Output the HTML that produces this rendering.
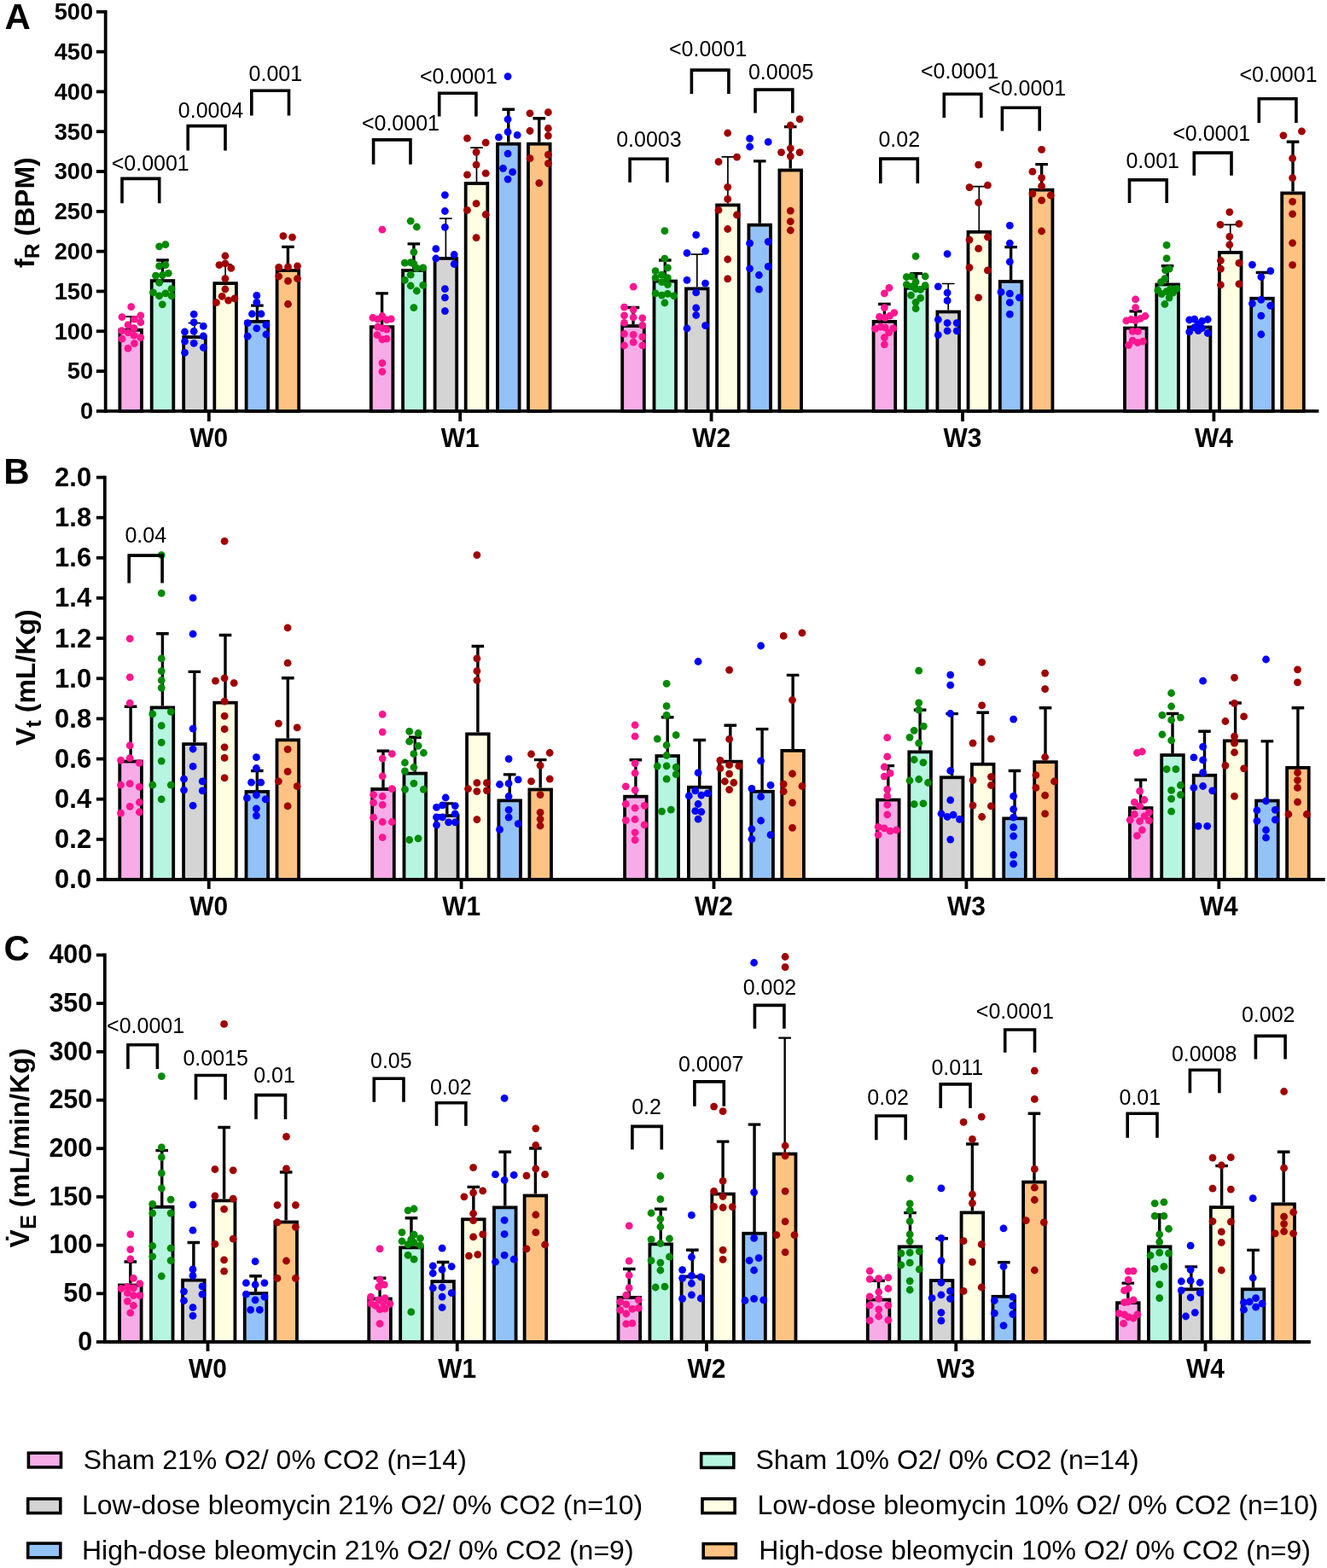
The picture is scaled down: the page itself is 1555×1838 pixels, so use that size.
<!DOCTYPE html>
<html><head><meta charset="utf-8"><title>Respiratory parameters</title><style>html,body{margin:0;padding:0;background:#fff;}svg{display:block;}</style></head><body>
<svg width="1555" height="1838" viewBox="0 0 1555 1838" font-family="'Liberation Sans', Arial, sans-serif">
<rect width="1555" height="1838" fill="#fff"/>
<text x="5.5" y="33.7" font-size="42" font-weight="bold">A</text>
<text x="4.2" y="566.9" font-size="42" font-weight="bold">B</text>
<text x="4.5" y="1126" font-size="42" font-weight="bold">C</text>
<text transform="translate(39.7,314) rotate(-90)" font-size="32" font-weight="bold">f<tspan font-size="24.6" dy="6.3">R</tspan><tspan dy="-6.3"> (BPM)</tspan></text>
<text transform="translate(41.4,874) rotate(-90)" font-size="32" font-weight="bold">V<tspan font-size="25.5" dy="6.9">t</tspan><tspan dy="-6.9"> (mL/Kg)</tspan></text>
<text transform="translate(34.1,1462.4) rotate(-90)" font-size="32" font-weight="bold">V&#x307;<tspan font-size="25.5" dy="7.6">E</tspan><tspan dy="-7.6"> (mL/min/Kg)</tspan></text>
<rect x="140.40" y="386.80" width="25.60" height="95.10" fill="#f7ace8" stroke="#000" stroke-width="3.8"/>
<rect x="177.70" y="329.10" width="25.60" height="152.80" fill="#b6f6e0" stroke="#000" stroke-width="3.8"/>
<rect x="215.20" y="395.10" width="25.60" height="86.80" fill="#d4d4d4" stroke="#000" stroke-width="3.8"/>
<rect x="251.30" y="332.10" width="25.60" height="149.80" fill="#fffde2" stroke="#000" stroke-width="3.8"/>
<rect x="288.60" y="376.90" width="25.60" height="105.00" fill="#93c2f8" stroke="#000" stroke-width="3.8"/>
<rect x="324.60" y="317.00" width="25.60" height="164.90" fill="#fec383" stroke="#000" stroke-width="3.8"/>
<path d="M153.20 384.90V371.20M145.90 371.20H160.50" stroke="#000" stroke-width="1.7" fill="none"/>
<path d="M190.50 327.20V305.00M183.20 305.00H197.80" stroke="#000" stroke-width="3.4" fill="none"/>
<path d="M228.00 393.20V378.70M220.70 378.70H235.30" stroke="#000" stroke-width="1.7" fill="none"/>
<path d="M264.10 330.20V309.90M256.80 309.90H271.40" stroke="#000" stroke-width="1.7" fill="none"/>
<path d="M301.40 375.00V358.10M294.10 358.10H308.70" stroke="#000" stroke-width="3.4" fill="none"/>
<path d="M337.40 315.10V289.40M330.10 289.40H344.70" stroke="#000" stroke-width="3.4" fill="none"/>
<circle cx="153.7" cy="359.7" r="4.4" fill="#ff1690"/>
<circle cx="143.0" cy="371.6" r="4.4" fill="#ff1690"/>
<circle cx="164.8" cy="369.8" r="4.4" fill="#ff1690"/>
<circle cx="157.4" cy="374.2" r="4.4" fill="#ff1690"/>
<circle cx="164.8" cy="377.9" r="4.4" fill="#ff1690"/>
<circle cx="150.0" cy="380.9" r="4.4" fill="#ff1690"/>
<circle cx="156.9" cy="384.6" r="4.4" fill="#ff1690"/>
<circle cx="142.6" cy="387.6" r="4.4" fill="#ff1690"/>
<circle cx="150.0" cy="389.8" r="4.4" fill="#ff1690"/>
<circle cx="156.9" cy="393.2" r="4.4" fill="#ff1690"/>
<circle cx="164.8" cy="395.7" r="4.4" fill="#ff1690"/>
<circle cx="143.0" cy="397.2" r="4.4" fill="#ff1690"/>
<circle cx="157.4" cy="402.6" r="4.4" fill="#ff1690"/>
<circle cx="150.0" cy="408.3" r="4.4" fill="#ff1690"/>
<circle cx="186.6" cy="288.8" r="4.4" fill="#008a00"/>
<circle cx="193.9" cy="286.7" r="4.4" fill="#008a00"/>
<circle cx="186.6" cy="311.8" r="4.4" fill="#008a00"/>
<circle cx="193.9" cy="310.6" r="4.4" fill="#008a00"/>
<circle cx="182.5" cy="323.2" r="4.4" fill="#008a00"/>
<circle cx="190.3" cy="322.5" r="4.4" fill="#008a00"/>
<circle cx="197.3" cy="320.3" r="4.4" fill="#008a00"/>
<circle cx="186.6" cy="331.3" r="4.4" fill="#008a00"/>
<circle cx="201.0" cy="338.7" r="4.4" fill="#008a00"/>
<circle cx="179.5" cy="342.9" r="4.4" fill="#008a00"/>
<circle cx="186.6" cy="346.9" r="4.4" fill="#008a00"/>
<circle cx="193.9" cy="343.9" r="4.4" fill="#008a00"/>
<circle cx="201.0" cy="346.9" r="4.4" fill="#008a00"/>
<circle cx="190.3" cy="356.8" r="4.4" fill="#008a00"/>
<circle cx="227.2" cy="368.3" r="4.4" fill="#0000ff"/>
<circle cx="227.2" cy="377.9" r="4.4" fill="#0000ff"/>
<circle cx="238.3" cy="382.4" r="4.4" fill="#0000ff"/>
<circle cx="216.5" cy="389.0" r="4.4" fill="#0000ff"/>
<circle cx="227.2" cy="388.3" r="4.4" fill="#0000ff"/>
<circle cx="238.3" cy="393.8" r="4.4" fill="#0000ff"/>
<circle cx="216.5" cy="400.1" r="4.4" fill="#0000ff"/>
<circle cx="227.2" cy="402.3" r="4.4" fill="#0000ff"/>
<circle cx="238.3" cy="407.5" r="4.4" fill="#0000ff"/>
<circle cx="216.5" cy="413.4" r="4.4" fill="#0000ff"/>
<circle cx="263.9" cy="300.0" r="4.4" fill="#a00000"/>
<circle cx="256.9" cy="310.6" r="4.4" fill="#a00000"/>
<circle cx="263.9" cy="308.9" r="4.4" fill="#a00000"/>
<circle cx="270.8" cy="314.3" r="4.4" fill="#a00000"/>
<circle cx="263.9" cy="326.6" r="4.4" fill="#a00000"/>
<circle cx="263.9" cy="339.0" r="4.4" fill="#a00000"/>
<circle cx="260.2" cy="347.3" r="4.4" fill="#a00000"/>
<circle cx="274.9" cy="349.8" r="4.4" fill="#a00000"/>
<circle cx="267.6" cy="352.1" r="4.4" fill="#a00000"/>
<circle cx="253.5" cy="354.7" r="4.4" fill="#a00000"/>
<circle cx="300.8" cy="346.4" r="4.4" fill="#0000ff"/>
<circle cx="300.8" cy="354.3" r="4.4" fill="#0000ff"/>
<circle cx="295.4" cy="368.0" r="4.4" fill="#0000ff"/>
<circle cx="306.0" cy="368.0" r="4.4" fill="#0000ff"/>
<circle cx="290.2" cy="378.7" r="4.4" fill="#0000ff"/>
<circle cx="311.9" cy="380.9" r="4.4" fill="#0000ff"/>
<circle cx="300.8" cy="384.9" r="4.4" fill="#0000ff"/>
<circle cx="290.2" cy="394.2" r="4.4" fill="#0000ff"/>
<circle cx="311.9" cy="392.0" r="4.4" fill="#0000ff"/>
<circle cx="331.9" cy="276.6" r="4.4" fill="#a00000"/>
<circle cx="342.5" cy="278.1" r="4.4" fill="#a00000"/>
<circle cx="326.7" cy="313.3" r="4.4" fill="#a00000"/>
<circle cx="337.5" cy="312.9" r="4.4" fill="#a00000"/>
<circle cx="348.5" cy="311.8" r="4.4" fill="#a00000"/>
<circle cx="326.7" cy="324.0" r="4.4" fill="#a00000"/>
<circle cx="337.5" cy="329.4" r="4.4" fill="#a00000"/>
<circle cx="348.5" cy="326.6" r="4.4" fill="#a00000"/>
<circle cx="337.5" cy="356.5" r="4.4" fill="#a00000"/>
<rect x="434.80" y="383.20" width="25.60" height="98.70" fill="#f7ace8" stroke="#000" stroke-width="3.8"/>
<rect x="472.10" y="317.00" width="25.60" height="164.90" fill="#b6f6e0" stroke="#000" stroke-width="3.8"/>
<rect x="509.60" y="302.90" width="25.60" height="179.00" fill="#d4d4d4" stroke="#000" stroke-width="3.8"/>
<rect x="545.70" y="215.00" width="25.60" height="266.90" fill="#fffde2" stroke="#000" stroke-width="3.8"/>
<rect x="583.00" y="168.70" width="25.60" height="313.20" fill="#93c2f8" stroke="#000" stroke-width="3.8"/>
<rect x="619.00" y="168.70" width="25.60" height="313.20" fill="#fec383" stroke="#000" stroke-width="3.8"/>
<path d="M447.60 381.30V343.90M440.30 343.90H454.90" stroke="#000" stroke-width="3.4" fill="none"/>
<path d="M484.90 315.10V285.90M477.60 285.90H492.20" stroke="#000" stroke-width="3.4" fill="none"/>
<path d="M522.40 301.00V256.20M515.10 256.20H529.70" stroke="#000" stroke-width="1.7" fill="none"/>
<path d="M558.50 213.10V173.20M551.20 173.20H565.80" stroke="#000" stroke-width="1.7" fill="none"/>
<path d="M595.80 166.80V128.20M588.50 128.20H603.10" stroke="#000" stroke-width="3.4" fill="none"/>
<path d="M631.80 166.80V138.80M624.50 138.80H639.10" stroke="#000" stroke-width="3.4" fill="none"/>
<circle cx="447.9" cy="269.2" r="4.4" fill="#ff1690"/>
<circle cx="436.8" cy="372.5" r="4.4" fill="#ff1690"/>
<circle cx="442.7" cy="374.2" r="4.4" fill="#ff1690"/>
<circle cx="447.9" cy="370.5" r="4.4" fill="#ff1690"/>
<circle cx="453.1" cy="375.0" r="4.4" fill="#ff1690"/>
<circle cx="458.3" cy="373.9" r="4.4" fill="#ff1690"/>
<circle cx="442.7" cy="383.1" r="4.4" fill="#ff1690"/>
<circle cx="447.9" cy="384.6" r="4.4" fill="#ff1690"/>
<circle cx="453.1" cy="386.1" r="4.4" fill="#ff1690"/>
<circle cx="442.0" cy="392.7" r="4.4" fill="#ff1690"/>
<circle cx="447.9" cy="397.9" r="4.4" fill="#ff1690"/>
<circle cx="453.1" cy="397.2" r="4.4" fill="#ff1690"/>
<circle cx="447.9" cy="425.7" r="4.4" fill="#ff1690"/>
<circle cx="447.9" cy="435.6" r="4.4" fill="#ff1690"/>
<circle cx="481.2" cy="259.2" r="4.4" fill="#008a00"/>
<circle cx="488.3" cy="266.0" r="4.4" fill="#008a00"/>
<circle cx="484.9" cy="295.6" r="4.4" fill="#008a00"/>
<circle cx="474.3" cy="308.1" r="4.4" fill="#008a00"/>
<circle cx="481.2" cy="307.7" r="4.4" fill="#008a00"/>
<circle cx="484.9" cy="309.2" r="4.4" fill="#008a00"/>
<circle cx="488.3" cy="314.3" r="4.4" fill="#008a00"/>
<circle cx="495.7" cy="313.9" r="4.4" fill="#008a00"/>
<circle cx="481.2" cy="322.2" r="4.4" fill="#008a00"/>
<circle cx="474.3" cy="328.4" r="4.4" fill="#008a00"/>
<circle cx="481.2" cy="335.0" r="4.4" fill="#008a00"/>
<circle cx="495.7" cy="334.3" r="4.4" fill="#008a00"/>
<circle cx="488.3" cy="341.0" r="4.4" fill="#008a00"/>
<circle cx="484.9" cy="360.6" r="4.4" fill="#008a00"/>
<circle cx="521.4" cy="228.6" r="4.4" fill="#0000ff"/>
<circle cx="521.4" cy="247.5" r="4.4" fill="#0000ff"/>
<circle cx="521.4" cy="266.3" r="4.4" fill="#0000ff"/>
<circle cx="510.8" cy="291.7" r="4.4" fill="#0000ff"/>
<circle cx="532.2" cy="298.5" r="4.4" fill="#0000ff"/>
<circle cx="510.8" cy="303.0" r="4.4" fill="#0000ff"/>
<circle cx="532.2" cy="309.5" r="4.4" fill="#0000ff"/>
<circle cx="521.4" cy="338.7" r="4.4" fill="#0000ff"/>
<circle cx="521.4" cy="348.8" r="4.4" fill="#0000ff"/>
<circle cx="521.4" cy="364.6" r="4.4" fill="#0000ff"/>
<circle cx="547.5" cy="162.1" r="4.4" fill="#a00000"/>
<circle cx="569.2" cy="167.2" r="4.4" fill="#a00000"/>
<circle cx="558.1" cy="178.3" r="4.4" fill="#a00000"/>
<circle cx="558.1" cy="193.1" r="4.4" fill="#a00000"/>
<circle cx="547.5" cy="204.9" r="4.4" fill="#a00000"/>
<circle cx="569.2" cy="203.2" r="4.4" fill="#a00000"/>
<circle cx="558.1" cy="238.7" r="4.4" fill="#a00000"/>
<circle cx="547.5" cy="246.4" r="4.4" fill="#a00000"/>
<circle cx="569.2" cy="251.5" r="4.4" fill="#a00000"/>
<circle cx="558.1" cy="278.6" r="4.4" fill="#a00000"/>
<circle cx="595.1" cy="89.6" r="4.4" fill="#0000ff"/>
<circle cx="595.1" cy="139.9" r="4.4" fill="#0000ff"/>
<circle cx="595.1" cy="154.7" r="4.4" fill="#0000ff"/>
<circle cx="584.4" cy="160.9" r="4.4" fill="#0000ff"/>
<circle cx="606.2" cy="158.4" r="4.4" fill="#0000ff"/>
<circle cx="595.1" cy="180.1" r="4.4" fill="#0000ff"/>
<circle cx="589.5" cy="197.3" r="4.4" fill="#0000ff"/>
<circle cx="600.6" cy="201.7" r="4.4" fill="#0000ff"/>
<circle cx="595.1" cy="210.1" r="4.4" fill="#0000ff"/>
<circle cx="621.0" cy="132.9" r="4.4" fill="#a00000"/>
<circle cx="642.4" cy="131.7" r="4.4" fill="#a00000"/>
<circle cx="621.0" cy="153.5" r="4.4" fill="#a00000"/>
<circle cx="642.4" cy="150.5" r="4.4" fill="#a00000"/>
<circle cx="642.4" cy="159.1" r="4.4" fill="#a00000"/>
<circle cx="642.4" cy="181.3" r="4.4" fill="#a00000"/>
<circle cx="621.0" cy="185.7" r="4.4" fill="#a00000"/>
<circle cx="642.4" cy="191.6" r="4.4" fill="#a00000"/>
<circle cx="631.8" cy="214.6" r="4.4" fill="#a00000"/>
<rect x="729.20" y="382.10" width="25.60" height="99.80" fill="#f7ace8" stroke="#000" stroke-width="3.8"/>
<rect x="766.50" y="329.60" width="25.60" height="152.30" fill="#b6f6e0" stroke="#000" stroke-width="3.8"/>
<rect x="804.00" y="338.40" width="25.60" height="143.50" fill="#d4d4d4" stroke="#000" stroke-width="3.8"/>
<rect x="840.10" y="240.40" width="25.60" height="241.50" fill="#fffde2" stroke="#000" stroke-width="3.8"/>
<rect x="877.40" y="263.70" width="25.60" height="218.20" fill="#93c2f8" stroke="#000" stroke-width="3.8"/>
<rect x="913.40" y="199.50" width="25.60" height="282.40" fill="#fec383" stroke="#000" stroke-width="3.8"/>
<path d="M742.00 380.20V360.50M734.70 360.50H749.30" stroke="#000" stroke-width="3.4" fill="none"/>
<path d="M779.30 327.70V305.00M772.00 305.00H786.60" stroke="#000" stroke-width="3.4" fill="none"/>
<path d="M816.80 336.50V298.10M809.50 298.10H824.10" stroke="#000" stroke-width="1.7" fill="none"/>
<path d="M852.90 238.50V183.80M845.60 183.80H860.20" stroke="#000" stroke-width="1.7" fill="none"/>
<path d="M890.20 261.80V188.90M882.90 188.90H897.50" stroke="#000" stroke-width="3.4" fill="none"/>
<path d="M926.20 197.60V148.60M918.90 148.60H933.50" stroke="#000" stroke-width="3.4" fill="none"/>
<circle cx="742.2" cy="336.2" r="4.4" fill="#ff1690"/>
<circle cx="731.5" cy="360.2" r="4.4" fill="#ff1690"/>
<circle cx="742.2" cy="363.1" r="4.4" fill="#ff1690"/>
<circle cx="731.5" cy="369.8" r="4.4" fill="#ff1690"/>
<circle cx="742.2" cy="372.0" r="4.4" fill="#ff1690"/>
<circle cx="752.8" cy="372.8" r="4.4" fill="#ff1690"/>
<circle cx="731.5" cy="378.4" r="4.4" fill="#ff1690"/>
<circle cx="752.8" cy="381.3" r="4.4" fill="#ff1690"/>
<circle cx="731.5" cy="391.3" r="4.4" fill="#ff1690"/>
<circle cx="742.2" cy="392.3" r="4.4" fill="#ff1690"/>
<circle cx="752.8" cy="394.9" r="4.4" fill="#ff1690"/>
<circle cx="742.2" cy="401.2" r="4.4" fill="#ff1690"/>
<circle cx="731.5" cy="405.0" r="4.4" fill="#ff1690"/>
<circle cx="752.8" cy="405.0" r="4.4" fill="#ff1690"/>
<circle cx="778.9" cy="270.7" r="4.4" fill="#008a00"/>
<circle cx="778.9" cy="303.2" r="4.4" fill="#008a00"/>
<circle cx="782.4" cy="313.9" r="4.4" fill="#008a00"/>
<circle cx="768.1" cy="317.7" r="4.4" fill="#008a00"/>
<circle cx="775.5" cy="322.2" r="4.4" fill="#008a00"/>
<circle cx="768.1" cy="325.7" r="4.4" fill="#008a00"/>
<circle cx="782.4" cy="325.7" r="4.4" fill="#008a00"/>
<circle cx="775.5" cy="330.6" r="4.4" fill="#008a00"/>
<circle cx="782.4" cy="333.6" r="4.4" fill="#008a00"/>
<circle cx="768.1" cy="343.9" r="4.4" fill="#008a00"/>
<circle cx="775.5" cy="346.1" r="4.4" fill="#008a00"/>
<circle cx="782.4" cy="344.4" r="4.4" fill="#008a00"/>
<circle cx="789.8" cy="346.9" r="4.4" fill="#008a00"/>
<circle cx="778.9" cy="355.0" r="4.4" fill="#008a00"/>
<circle cx="815.7" cy="275.4" r="4.4" fill="#0000ff"/>
<circle cx="805.0" cy="296.6" r="4.4" fill="#0000ff"/>
<circle cx="826.5" cy="294.4" r="4.4" fill="#0000ff"/>
<circle cx="805.0" cy="328.4" r="4.4" fill="#0000ff"/>
<circle cx="826.5" cy="332.1" r="4.4" fill="#0000ff"/>
<circle cx="815.7" cy="342.9" r="4.4" fill="#0000ff"/>
<circle cx="815.7" cy="360.9" r="4.4" fill="#0000ff"/>
<circle cx="815.7" cy="369.5" r="4.4" fill="#0000ff"/>
<circle cx="805.0" cy="384.9" r="4.4" fill="#0000ff"/>
<circle cx="826.5" cy="381.6" r="4.4" fill="#0000ff"/>
<circle cx="852.7" cy="156.0" r="4.4" fill="#a00000"/>
<circle cx="842.0" cy="189.7" r="4.4" fill="#a00000"/>
<circle cx="863.5" cy="184.1" r="4.4" fill="#a00000"/>
<circle cx="852.7" cy="219.3" r="4.4" fill="#a00000"/>
<circle cx="852.7" cy="233.4" r="4.4" fill="#a00000"/>
<circle cx="842.0" cy="246.2" r="4.4" fill="#a00000"/>
<circle cx="863.5" cy="251.9" r="4.4" fill="#a00000"/>
<circle cx="852.7" cy="268.5" r="4.4" fill="#a00000"/>
<circle cx="852.7" cy="304.0" r="4.4" fill="#a00000"/>
<circle cx="852.7" cy="326.9" r="4.4" fill="#a00000"/>
<circle cx="878.6" cy="162.4" r="4.4" fill="#0000ff"/>
<circle cx="878.6" cy="172.0" r="4.4" fill="#0000ff"/>
<circle cx="900.2" cy="166.4" r="4.4" fill="#0000ff"/>
<circle cx="878.6" cy="285.2" r="4.4" fill="#0000ff"/>
<circle cx="900.2" cy="283.3" r="4.4" fill="#0000ff"/>
<circle cx="878.6" cy="314.8" r="4.4" fill="#0000ff"/>
<circle cx="900.2" cy="312.4" r="4.4" fill="#0000ff"/>
<circle cx="889.4" cy="322.5" r="4.4" fill="#0000ff"/>
<circle cx="889.4" cy="339.2" r="4.4" fill="#0000ff"/>
<circle cx="937.1" cy="139.7" r="4.4" fill="#a00000"/>
<circle cx="926.3" cy="146.8" r="4.4" fill="#a00000"/>
<circle cx="926.3" cy="173.8" r="4.4" fill="#a00000"/>
<circle cx="915.5" cy="178.6" r="4.4" fill="#a00000"/>
<circle cx="937.1" cy="178.6" r="4.4" fill="#a00000"/>
<circle cx="926.3" cy="183.1" r="4.4" fill="#a00000"/>
<circle cx="926.3" cy="247.1" r="4.4" fill="#a00000"/>
<circle cx="926.3" cy="259.6" r="4.4" fill="#a00000"/>
<circle cx="926.3" cy="270.0" r="4.4" fill="#a00000"/>
<rect x="1023.60" y="376.90" width="25.60" height="105.00" fill="#f7ace8" stroke="#000" stroke-width="3.8"/>
<rect x="1060.90" y="337.70" width="25.60" height="144.20" fill="#b6f6e0" stroke="#000" stroke-width="3.8"/>
<rect x="1098.40" y="365.50" width="25.60" height="116.40" fill="#d4d4d4" stroke="#000" stroke-width="3.8"/>
<rect x="1134.50" y="271.90" width="25.60" height="210.00" fill="#fffde2" stroke="#000" stroke-width="3.8"/>
<rect x="1171.80" y="330.00" width="25.60" height="151.90" fill="#93c2f8" stroke="#000" stroke-width="3.8"/>
<rect x="1207.80" y="222.60" width="25.60" height="259.30" fill="#fec383" stroke="#000" stroke-width="3.8"/>
<path d="M1036.40 375.00V356.50M1029.10 356.50H1043.70" stroke="#000" stroke-width="3.4" fill="none"/>
<path d="M1073.70 335.80V320.60M1066.40 320.60H1081.00" stroke="#000" stroke-width="3.4" fill="none"/>
<path d="M1111.20 363.60V332.50M1103.90 332.50H1118.50" stroke="#000" stroke-width="1.7" fill="none"/>
<path d="M1147.30 270.00V218.70M1140.00 218.70H1154.60" stroke="#000" stroke-width="1.7" fill="none"/>
<path d="M1184.60 328.10V289.60M1177.30 289.60H1191.90" stroke="#000" stroke-width="3.4" fill="none"/>
<path d="M1220.60 220.70V192.60M1213.30 192.60H1227.90" stroke="#000" stroke-width="3.4" fill="none"/>
<circle cx="1041.9" cy="337.3" r="4.4" fill="#ff1690"/>
<circle cx="1036.4" cy="343.9" r="4.4" fill="#ff1690"/>
<circle cx="1036.4" cy="360.6" r="4.4" fill="#ff1690"/>
<circle cx="1047.8" cy="366.6" r="4.4" fill="#ff1690"/>
<circle cx="1030.5" cy="371.3" r="4.4" fill="#ff1690"/>
<circle cx="1037.2" cy="372.5" r="4.4" fill="#ff1690"/>
<circle cx="1042.8" cy="370.1" r="4.4" fill="#ff1690"/>
<circle cx="1025.6" cy="385.3" r="4.4" fill="#ff1690"/>
<circle cx="1032.0" cy="383.1" r="4.4" fill="#ff1690"/>
<circle cx="1037.2" cy="383.9" r="4.4" fill="#ff1690"/>
<circle cx="1046.8" cy="384.9" r="4.4" fill="#ff1690"/>
<circle cx="1041.6" cy="389.8" r="4.4" fill="#ff1690"/>
<circle cx="1036.4" cy="395.7" r="4.4" fill="#ff1690"/>
<circle cx="1036.4" cy="403.8" r="4.4" fill="#ff1690"/>
<circle cx="1073.1" cy="300.3" r="4.4" fill="#008a00"/>
<circle cx="1062.3" cy="324.7" r="4.4" fill="#008a00"/>
<circle cx="1068.2" cy="324.0" r="4.4" fill="#008a00"/>
<circle cx="1084.2" cy="324.0" r="4.4" fill="#008a00"/>
<circle cx="1073.1" cy="330.6" r="4.4" fill="#008a00"/>
<circle cx="1062.3" cy="333.6" r="4.4" fill="#008a00"/>
<circle cx="1084.2" cy="334.6" r="4.4" fill="#008a00"/>
<circle cx="1068.2" cy="335.8" r="4.4" fill="#008a00"/>
<circle cx="1078.6" cy="339.5" r="4.4" fill="#008a00"/>
<circle cx="1073.1" cy="338.7" r="4.4" fill="#008a00"/>
<circle cx="1067.5" cy="346.1" r="4.4" fill="#008a00"/>
<circle cx="1078.6" cy="349.4" r="4.4" fill="#008a00"/>
<circle cx="1073.1" cy="354.3" r="4.4" fill="#008a00"/>
<circle cx="1073.1" cy="361.7" r="4.4" fill="#008a00"/>
<circle cx="1110.1" cy="297.6" r="4.4" fill="#0000ff"/>
<circle cx="1099.3" cy="335.8" r="4.4" fill="#0000ff"/>
<circle cx="1110.1" cy="343.2" r="4.4" fill="#0000ff"/>
<circle cx="1110.1" cy="352.4" r="4.4" fill="#0000ff"/>
<circle cx="1099.3" cy="374.7" r="4.4" fill="#0000ff"/>
<circle cx="1110.1" cy="378.7" r="4.4" fill="#0000ff"/>
<circle cx="1121.2" cy="378.7" r="4.4" fill="#0000ff"/>
<circle cx="1110.1" cy="387.8" r="4.4" fill="#0000ff"/>
<circle cx="1121.2" cy="387.8" r="4.4" fill="#0000ff"/>
<circle cx="1099.3" cy="392.7" r="4.4" fill="#0000ff"/>
<circle cx="1146.6" cy="193.1" r="4.4" fill="#a00000"/>
<circle cx="1136.0" cy="219.7" r="4.4" fill="#a00000"/>
<circle cx="1157.4" cy="217.2" r="4.4" fill="#a00000"/>
<circle cx="1146.6" cy="237.5" r="4.4" fill="#a00000"/>
<circle cx="1136.0" cy="281.1" r="4.4" fill="#a00000"/>
<circle cx="1157.4" cy="277.8" r="4.4" fill="#a00000"/>
<circle cx="1146.6" cy="291.4" r="4.4" fill="#a00000"/>
<circle cx="1136.0" cy="313.6" r="4.4" fill="#a00000"/>
<circle cx="1157.4" cy="316.9" r="4.4" fill="#a00000"/>
<circle cx="1146.6" cy="348.8" r="4.4" fill="#a00000"/>
<circle cx="1183.3" cy="264.3" r="4.4" fill="#0000ff"/>
<circle cx="1183.3" cy="285.1" r="4.4" fill="#0000ff"/>
<circle cx="1183.3" cy="306.9" r="4.4" fill="#0000ff"/>
<circle cx="1173.0" cy="342.4" r="4.4" fill="#0000ff"/>
<circle cx="1183.3" cy="344.2" r="4.4" fill="#0000ff"/>
<circle cx="1194.3" cy="348.8" r="4.4" fill="#0000ff"/>
<circle cx="1183.3" cy="354.7" r="4.4" fill="#0000ff"/>
<circle cx="1183.3" cy="368.3" r="4.4" fill="#0000ff"/>
<circle cx="1220.6" cy="175.3" r="4.4" fill="#a00000"/>
<circle cx="1209.9" cy="201.2" r="4.4" fill="#a00000"/>
<circle cx="1220.6" cy="208.3" r="4.4" fill="#a00000"/>
<circle cx="1220.6" cy="218.2" r="4.4" fill="#a00000"/>
<circle cx="1209.9" cy="227.1" r="4.4" fill="#a00000"/>
<circle cx="1231.2" cy="229.0" r="4.4" fill="#a00000"/>
<circle cx="1220.6" cy="234.9" r="4.4" fill="#a00000"/>
<circle cx="1220.6" cy="271.0" r="4.4" fill="#a00000"/>
<rect x="1318.00" y="384.60" width="25.60" height="97.30" fill="#f7ace8" stroke="#000" stroke-width="3.8"/>
<rect x="1355.30" y="333.50" width="25.60" height="148.40" fill="#b6f6e0" stroke="#000" stroke-width="3.8"/>
<rect x="1392.80" y="383.50" width="25.60" height="98.40" fill="#d4d4d4" stroke="#000" stroke-width="3.8"/>
<rect x="1428.90" y="296.00" width="25.60" height="185.90" fill="#fffde2" stroke="#000" stroke-width="3.8"/>
<rect x="1466.20" y="349.80" width="25.60" height="132.10" fill="#93c2f8" stroke="#000" stroke-width="3.8"/>
<rect x="1502.20" y="226.40" width="25.60" height="255.50" fill="#fec383" stroke="#000" stroke-width="3.8"/>
<path d="M1330.80 382.70V364.90M1323.50 364.90H1338.10" stroke="#000" stroke-width="3.4" fill="none"/>
<path d="M1368.10 331.60V311.80M1360.80 311.80H1375.40" stroke="#000" stroke-width="3.4" fill="none"/>
<path d="M1405.60 381.60V377.50M1398.30 377.50H1412.90" stroke="#000" stroke-width="1.7" fill="none"/>
<path d="M1441.70 294.10V263.30M1434.40 263.30H1449.00" stroke="#000" stroke-width="1.7" fill="none"/>
<path d="M1479.00 347.90V319.50M1471.70 319.50H1486.30" stroke="#000" stroke-width="3.4" fill="none"/>
<path d="M1515.00 224.50V166.30M1507.70 166.30H1522.30" stroke="#000" stroke-width="3.4" fill="none"/>
<circle cx="1330.6" cy="350.9" r="4.4" fill="#ff1690"/>
<circle cx="1330.6" cy="360.6" r="4.4" fill="#ff1690"/>
<circle cx="1319.8" cy="376.0" r="4.4" fill="#ff1690"/>
<circle cx="1325.4" cy="374.5" r="4.4" fill="#ff1690"/>
<circle cx="1330.9" cy="375.0" r="4.4" fill="#ff1690"/>
<circle cx="1336.4" cy="373.5" r="4.4" fill="#ff1690"/>
<circle cx="1342.0" cy="370.5" r="4.4" fill="#ff1690"/>
<circle cx="1327.2" cy="388.3" r="4.4" fill="#ff1690"/>
<circle cx="1333.4" cy="388.3" r="4.4" fill="#ff1690"/>
<circle cx="1322.5" cy="404.6" r="4.4" fill="#ff1690"/>
<circle cx="1327.2" cy="399.1" r="4.4" fill="#ff1690"/>
<circle cx="1333.1" cy="401.6" r="4.4" fill="#ff1690"/>
<circle cx="1339.3" cy="400.1" r="4.4" fill="#ff1690"/>
<circle cx="1330.4" cy="375.7" r="4.4" fill="#ff1690"/>
<circle cx="1367.1" cy="287.3" r="4.4" fill="#008a00"/>
<circle cx="1367.1" cy="302.8" r="4.4" fill="#008a00"/>
<circle cx="1365.6" cy="316.9" r="4.4" fill="#008a00"/>
<circle cx="1370.1" cy="315.1" r="4.4" fill="#008a00"/>
<circle cx="1364.9" cy="326.6" r="4.4" fill="#008a00"/>
<circle cx="1360.5" cy="330.6" r="4.4" fill="#008a00"/>
<circle cx="1356.8" cy="340.2" r="4.4" fill="#008a00"/>
<circle cx="1361.2" cy="344.7" r="4.4" fill="#008a00"/>
<circle cx="1367.1" cy="341.7" r="4.4" fill="#008a00"/>
<circle cx="1371.6" cy="338.7" r="4.4" fill="#008a00"/>
<circle cx="1379.0" cy="338.4" r="4.4" fill="#008a00"/>
<circle cx="1370.1" cy="349.1" r="4.4" fill="#008a00"/>
<circle cx="1364.9" cy="356.5" r="4.4" fill="#008a00"/>
<circle cx="1374.5" cy="343.2" r="4.4" fill="#008a00"/>
<circle cx="1393.7" cy="375.0" r="4.4" fill="#0000ff"/>
<circle cx="1399.7" cy="374.2" r="4.4" fill="#0000ff"/>
<circle cx="1415.2" cy="374.5" r="4.4" fill="#0000ff"/>
<circle cx="1408.5" cy="376.5" r="4.4" fill="#0000ff"/>
<circle cx="1404.1" cy="380.2" r="4.4" fill="#0000ff"/>
<circle cx="1399.7" cy="383.9" r="4.4" fill="#0000ff"/>
<circle cx="1408.5" cy="384.6" r="4.4" fill="#0000ff"/>
<circle cx="1393.7" cy="389.0" r="4.4" fill="#0000ff"/>
<circle cx="1404.1" cy="387.6" r="4.4" fill="#0000ff"/>
<circle cx="1415.2" cy="390.5" r="4.4" fill="#0000ff"/>
<circle cx="1440.8" cy="248.6" r="4.4" fill="#a00000"/>
<circle cx="1430.0" cy="263.4" r="4.4" fill="#a00000"/>
<circle cx="1451.9" cy="262.3" r="4.4" fill="#a00000"/>
<circle cx="1440.8" cy="277.4" r="4.4" fill="#a00000"/>
<circle cx="1440.8" cy="287.0" r="4.4" fill="#a00000"/>
<circle cx="1430.4" cy="305.5" r="4.4" fill="#a00000"/>
<circle cx="1451.9" cy="308.4" r="4.4" fill="#a00000"/>
<circle cx="1430.4" cy="315.1" r="4.4" fill="#a00000"/>
<circle cx="1430.4" cy="334.0" r="4.4" fill="#a00000"/>
<circle cx="1451.9" cy="332.8" r="4.4" fill="#a00000"/>
<circle cx="1467.4" cy="310.3" r="4.4" fill="#0000ff"/>
<circle cx="1488.8" cy="317.7" r="4.4" fill="#0000ff"/>
<circle cx="1477.8" cy="324.7" r="4.4" fill="#0000ff"/>
<circle cx="1477.8" cy="351.3" r="4.4" fill="#0000ff"/>
<circle cx="1467.4" cy="355.8" r="4.4" fill="#0000ff"/>
<circle cx="1488.8" cy="358.3" r="4.4" fill="#0000ff"/>
<circle cx="1477.8" cy="370.1" r="4.4" fill="#0000ff"/>
<circle cx="1477.8" cy="392.0" r="4.4" fill="#0000ff"/>
<circle cx="1503.9" cy="158.8" r="4.4" fill="#a00000"/>
<circle cx="1525.4" cy="153.9" r="4.4" fill="#a00000"/>
<circle cx="1514.6" cy="185.7" r="4.4" fill="#a00000"/>
<circle cx="1514.6" cy="208.6" r="4.4" fill="#a00000"/>
<circle cx="1514.6" cy="236.3" r="4.4" fill="#a00000"/>
<circle cx="1514.6" cy="250.8" r="4.4" fill="#a00000"/>
<circle cx="1514.6" cy="284.8" r="4.4" fill="#a00000"/>
<circle cx="1514.6" cy="310.6" r="4.4" fill="#a00000"/>
<rect x="140.30" y="892.50" width="25.60" height="138.50" fill="#f7ace8" stroke="#000" stroke-width="3.8"/>
<rect x="177.60" y="829.40" width="25.60" height="201.60" fill="#b6f6e0" stroke="#000" stroke-width="3.8"/>
<rect x="215.10" y="872.20" width="25.60" height="158.80" fill="#d4d4d4" stroke="#000" stroke-width="3.8"/>
<rect x="251.20" y="823.70" width="25.60" height="207.30" fill="#fffde2" stroke="#000" stroke-width="3.8"/>
<rect x="288.50" y="928.00" width="25.60" height="103.00" fill="#93c2f8" stroke="#000" stroke-width="3.8"/>
<rect x="324.50" y="867.40" width="25.60" height="163.60" fill="#fec383" stroke="#000" stroke-width="3.8"/>
<path d="M153.10 890.60V828.30M145.80 828.30H160.40" stroke="#000" stroke-width="3.4" fill="none"/>
<path d="M190.40 827.50V742.70M183.10 742.70H197.70" stroke="#000" stroke-width="3.4" fill="none"/>
<path d="M227.90 870.30V787.40M220.60 787.40H235.20" stroke="#000" stroke-width="3.4" fill="none"/>
<path d="M264.00 821.80V744.50M256.70 744.50H271.30" stroke="#000" stroke-width="3.4" fill="none"/>
<path d="M301.30 926.10V903.50M294.00 903.50H308.60" stroke="#000" stroke-width="3.4" fill="none"/>
<path d="M337.30 865.50V794.80M330.00 794.80H344.60" stroke="#000" stroke-width="3.4" fill="none"/>
<circle cx="152.2" cy="748.6" r="4.4" fill="#ff1690"/>
<circle cx="152.2" cy="793.8" r="4.4" fill="#ff1690"/>
<circle cx="152.2" cy="824.1" r="4.4" fill="#ff1690"/>
<circle cx="152.2" cy="873.9" r="4.4" fill="#ff1690"/>
<circle cx="141.5" cy="891.1" r="4.4" fill="#ff1690"/>
<circle cx="152.2" cy="888.7" r="4.4" fill="#ff1690"/>
<circle cx="163.3" cy="894.3" r="4.4" fill="#ff1690"/>
<circle cx="141.5" cy="920.2" r="4.4" fill="#ff1690"/>
<circle cx="152.2" cy="918.7" r="4.4" fill="#ff1690"/>
<circle cx="163.3" cy="922.4" r="4.4" fill="#ff1690"/>
<circle cx="163.3" cy="940.5" r="4.4" fill="#ff1690"/>
<circle cx="152.2" cy="945.3" r="4.4" fill="#ff1690"/>
<circle cx="141.5" cy="953.2" r="4.4" fill="#ff1690"/>
<circle cx="163.3" cy="952.0" r="4.4" fill="#ff1690"/>
<circle cx="189.2" cy="650.7" r="4.4" fill="#008a00"/>
<circle cx="189.2" cy="695.4" r="4.4" fill="#008a00"/>
<circle cx="189.2" cy="771.9" r="4.4" fill="#008a00"/>
<circle cx="189.2" cy="786.7" r="4.4" fill="#008a00"/>
<circle cx="189.2" cy="797.5" r="4.4" fill="#008a00"/>
<circle cx="189.2" cy="806.3" r="4.4" fill="#008a00"/>
<circle cx="178.8" cy="836.9" r="4.4" fill="#008a00"/>
<circle cx="200.3" cy="834.4" r="4.4" fill="#008a00"/>
<circle cx="189.2" cy="850.7" r="4.4" fill="#008a00"/>
<circle cx="189.2" cy="870.3" r="4.4" fill="#008a00"/>
<circle cx="189.2" cy="892.1" r="4.4" fill="#008a00"/>
<circle cx="178.8" cy="920.2" r="4.4" fill="#008a00"/>
<circle cx="200.3" cy="920.2" r="4.4" fill="#008a00"/>
<circle cx="189.2" cy="936.9" r="4.4" fill="#008a00"/>
<circle cx="226.1" cy="700.9" r="4.4" fill="#0000ff"/>
<circle cx="226.1" cy="743.2" r="4.4" fill="#0000ff"/>
<circle cx="226.1" cy="854.1" r="4.4" fill="#0000ff"/>
<circle cx="226.1" cy="878.0" r="4.4" fill="#0000ff"/>
<circle cx="226.1" cy="898.4" r="4.4" fill="#0000ff"/>
<circle cx="215.5" cy="913.2" r="4.4" fill="#0000ff"/>
<circle cx="237.2" cy="915.8" r="4.4" fill="#0000ff"/>
<circle cx="215.5" cy="926.1" r="4.4" fill="#0000ff"/>
<circle cx="237.2" cy="926.8" r="4.4" fill="#0000ff"/>
<circle cx="226.1" cy="944.3" r="4.4" fill="#0000ff"/>
<circle cx="263.1" cy="634.3" r="4.4" fill="#a00000"/>
<circle cx="252.5" cy="798.2" r="4.4" fill="#a00000"/>
<circle cx="263.1" cy="794.9" r="4.4" fill="#a00000"/>
<circle cx="274.2" cy="800.7" r="4.4" fill="#a00000"/>
<circle cx="263.1" cy="822.1" r="4.4" fill="#a00000"/>
<circle cx="263.1" cy="839.3" r="4.4" fill="#a00000"/>
<circle cx="263.1" cy="854.7" r="4.4" fill="#a00000"/>
<circle cx="263.1" cy="875.8" r="4.4" fill="#a00000"/>
<circle cx="263.1" cy="888.4" r="4.4" fill="#a00000"/>
<circle cx="263.1" cy="911.8" r="4.4" fill="#a00000"/>
<circle cx="300.4" cy="887.7" r="4.4" fill="#0000ff"/>
<circle cx="300.4" cy="900.5" r="4.4" fill="#0000ff"/>
<circle cx="294.5" cy="917.2" r="4.4" fill="#0000ff"/>
<circle cx="305.7" cy="917.2" r="4.4" fill="#0000ff"/>
<circle cx="300.4" cy="932.0" r="4.4" fill="#0000ff"/>
<circle cx="289.4" cy="935.4" r="4.4" fill="#0000ff"/>
<circle cx="311.2" cy="936.9" r="4.4" fill="#0000ff"/>
<circle cx="300.4" cy="947.8" r="4.4" fill="#0000ff"/>
<circle cx="300.4" cy="956.1" r="4.4" fill="#0000ff"/>
<circle cx="337.1" cy="735.8" r="4.4" fill="#a00000"/>
<circle cx="337.1" cy="777.2" r="4.4" fill="#a00000"/>
<circle cx="326.4" cy="848.2" r="4.4" fill="#a00000"/>
<circle cx="348.2" cy="852.9" r="4.4" fill="#a00000"/>
<circle cx="337.1" cy="878.3" r="4.4" fill="#a00000"/>
<circle cx="337.1" cy="904.4" r="4.4" fill="#a00000"/>
<circle cx="326.4" cy="915.8" r="4.4" fill="#a00000"/>
<circle cx="348.2" cy="921.7" r="4.4" fill="#a00000"/>
<circle cx="337.1" cy="944.9" r="4.4" fill="#a00000"/>
<rect x="436.20" y="925.00" width="25.60" height="106.00" fill="#f7ace8" stroke="#000" stroke-width="3.8"/>
<rect x="473.50" y="906.60" width="25.60" height="124.40" fill="#b6f6e0" stroke="#000" stroke-width="3.8"/>
<rect x="511.00" y="956.10" width="25.60" height="74.90" fill="#d4d4d4" stroke="#000" stroke-width="3.8"/>
<rect x="547.10" y="860.40" width="25.60" height="170.60" fill="#fffde2" stroke="#000" stroke-width="3.8"/>
<rect x="584.40" y="938.40" width="25.60" height="92.60" fill="#93c2f8" stroke="#000" stroke-width="3.8"/>
<rect x="620.40" y="925.50" width="25.60" height="105.50" fill="#fec383" stroke="#000" stroke-width="3.8"/>
<path d="M449.00 923.10V880.30M441.70 880.30H456.30" stroke="#000" stroke-width="3.4" fill="none"/>
<path d="M486.30 904.70V864.30M479.00 864.30H493.60" stroke="#000" stroke-width="3.4" fill="none"/>
<path d="M523.80 954.20V941.90M516.50 941.90H531.10" stroke="#000" stroke-width="3.4" fill="none"/>
<path d="M559.90 858.50V757.50M552.60 757.50H567.20" stroke="#000" stroke-width="3.4" fill="none"/>
<path d="M597.20 936.50V907.90M589.90 907.90H604.50" stroke="#000" stroke-width="3.4" fill="none"/>
<path d="M633.20 923.60V890.60M625.90 890.60H640.50" stroke="#000" stroke-width="3.4" fill="none"/>
<circle cx="448.2" cy="837.4" r="4.4" fill="#ff1690"/>
<circle cx="448.2" cy="858.1" r="4.4" fill="#ff1690"/>
<circle cx="459.3" cy="883.7" r="4.4" fill="#ff1690"/>
<circle cx="448.2" cy="889.1" r="4.4" fill="#ff1690"/>
<circle cx="448.2" cy="909.8" r="4.4" fill="#ff1690"/>
<circle cx="459.3" cy="924.6" r="4.4" fill="#ff1690"/>
<circle cx="437.6" cy="931.6" r="4.4" fill="#ff1690"/>
<circle cx="448.2" cy="933.5" r="4.4" fill="#ff1690"/>
<circle cx="437.6" cy="940.9" r="4.4" fill="#ff1690"/>
<circle cx="448.2" cy="943.4" r="4.4" fill="#ff1690"/>
<circle cx="437.6" cy="958.2" r="4.4" fill="#ff1690"/>
<circle cx="448.2" cy="963.5" r="4.4" fill="#ff1690"/>
<circle cx="459.3" cy="963.5" r="4.4" fill="#ff1690"/>
<circle cx="448.2" cy="981.6" r="4.4" fill="#ff1690"/>
<circle cx="479.7" cy="857.3" r="4.4" fill="#008a00"/>
<circle cx="490.1" cy="859.5" r="4.4" fill="#008a00"/>
<circle cx="479.7" cy="869.2" r="4.4" fill="#008a00"/>
<circle cx="490.1" cy="874.3" r="4.4" fill="#008a00"/>
<circle cx="484.9" cy="883.7" r="4.4" fill="#008a00"/>
<circle cx="496.4" cy="882.5" r="4.4" fill="#008a00"/>
<circle cx="474.5" cy="894.0" r="4.4" fill="#008a00"/>
<circle cx="484.9" cy="899.5" r="4.4" fill="#008a00"/>
<circle cx="474.5" cy="903.9" r="4.4" fill="#008a00"/>
<circle cx="484.9" cy="918.3" r="4.4" fill="#008a00"/>
<circle cx="474.5" cy="925.4" r="4.4" fill="#008a00"/>
<circle cx="496.4" cy="925.4" r="4.4" fill="#008a00"/>
<circle cx="479.7" cy="984.5" r="4.4" fill="#008a00"/>
<circle cx="490.1" cy="982.8" r="4.4" fill="#008a00"/>
<circle cx="522.2" cy="935.0" r="4.4" fill="#0000ff"/>
<circle cx="511.5" cy="946.4" r="4.4" fill="#0000ff"/>
<circle cx="518.5" cy="943.9" r="4.4" fill="#0000ff"/>
<circle cx="533.3" cy="944.6" r="4.4" fill="#0000ff"/>
<circle cx="533.3" cy="953.8" r="4.4" fill="#0000ff"/>
<circle cx="511.5" cy="957.9" r="4.4" fill="#0000ff"/>
<circle cx="518.5" cy="957.9" r="4.4" fill="#0000ff"/>
<circle cx="525.6" cy="963.8" r="4.4" fill="#0000ff"/>
<circle cx="533.3" cy="963.8" r="4.4" fill="#0000ff"/>
<circle cx="511.5" cy="967.1" r="4.4" fill="#0000ff"/>
<circle cx="558.9" cy="650.7" r="4.4" fill="#a00000"/>
<circle cx="558.9" cy="771.9" r="4.4" fill="#a00000"/>
<circle cx="558.9" cy="786.7" r="4.4" fill="#a00000"/>
<circle cx="558.9" cy="797.5" r="4.4" fill="#a00000"/>
<circle cx="558.9" cy="917.7" r="4.4" fill="#a00000"/>
<circle cx="570.4" cy="917.7" r="4.4" fill="#a00000"/>
<circle cx="548.5" cy="924.6" r="4.4" fill="#a00000"/>
<circle cx="558.9" cy="927.6" r="4.4" fill="#a00000"/>
<circle cx="570.4" cy="926.6" r="4.4" fill="#a00000"/>
<circle cx="558.9" cy="960.6" r="4.4" fill="#a00000"/>
<circle cx="596.1" cy="889.6" r="4.4" fill="#0000ff"/>
<circle cx="607.2" cy="913.8" r="4.4" fill="#0000ff"/>
<circle cx="585.5" cy="919.5" r="4.4" fill="#0000ff"/>
<circle cx="596.1" cy="918.4" r="4.4" fill="#0000ff"/>
<circle cx="596.1" cy="933.5" r="4.4" fill="#0000ff"/>
<circle cx="596.1" cy="949.3" r="4.4" fill="#0000ff"/>
<circle cx="596.1" cy="958.2" r="4.4" fill="#0000ff"/>
<circle cx="607.2" cy="965.6" r="4.4" fill="#0000ff"/>
<circle cx="585.5" cy="972.4" r="4.4" fill="#0000ff"/>
<circle cx="622.5" cy="884.0" r="4.4" fill="#a00000"/>
<circle cx="644.2" cy="882.5" r="4.4" fill="#a00000"/>
<circle cx="633.1" cy="897.3" r="4.4" fill="#a00000"/>
<circle cx="622.5" cy="915.8" r="4.4" fill="#a00000"/>
<circle cx="644.2" cy="913.1" r="4.4" fill="#a00000"/>
<circle cx="633.1" cy="931.6" r="4.4" fill="#a00000"/>
<circle cx="633.1" cy="952.3" r="4.4" fill="#a00000"/>
<circle cx="633.1" cy="960.1" r="4.4" fill="#a00000"/>
<circle cx="633.1" cy="968.0" r="4.4" fill="#a00000"/>
<rect x="732.10" y="933.70" width="25.60" height="97.30" fill="#f7ace8" stroke="#000" stroke-width="3.8"/>
<rect x="769.40" y="886.10" width="25.60" height="144.90" fill="#b6f6e0" stroke="#000" stroke-width="3.8"/>
<rect x="806.90" y="922.80" width="25.60" height="108.20" fill="#d4d4d4" stroke="#000" stroke-width="3.8"/>
<rect x="843.00" y="892.70" width="25.60" height="138.30" fill="#fffde2" stroke="#000" stroke-width="3.8"/>
<rect x="880.30" y="927.80" width="25.60" height="103.20" fill="#93c2f8" stroke="#000" stroke-width="3.8"/>
<rect x="916.30" y="879.90" width="25.60" height="151.10" fill="#fec383" stroke="#000" stroke-width="3.8"/>
<path d="M744.90 931.80V890.70M737.60 890.70H752.20" stroke="#000" stroke-width="3.4" fill="none"/>
<path d="M782.20 884.20V840.70M774.90 840.70H789.50" stroke="#000" stroke-width="3.4" fill="none"/>
<path d="M819.70 920.90V867.50M812.40 867.50H827.00" stroke="#000" stroke-width="3.4" fill="none"/>
<path d="M855.80 890.80V850.20M848.50 850.20H863.10" stroke="#000" stroke-width="3.4" fill="none"/>
<path d="M893.10 925.90V854.60M885.80 854.60H900.40" stroke="#000" stroke-width="3.4" fill="none"/>
<path d="M929.10 878.00V791.40M921.80 791.40H936.40" stroke="#000" stroke-width="3.4" fill="none"/>
<circle cx="744.1" cy="849.9" r="4.4" fill="#ff1690"/>
<circle cx="744.1" cy="863.2" r="4.4" fill="#ff1690"/>
<circle cx="744.1" cy="894.8" r="4.4" fill="#ff1690"/>
<circle cx="744.1" cy="906.2" r="4.4" fill="#ff1690"/>
<circle cx="733.3" cy="921.8" r="4.4" fill="#ff1690"/>
<circle cx="744.1" cy="926.2" r="4.4" fill="#ff1690"/>
<circle cx="733.3" cy="942.5" r="4.4" fill="#ff1690"/>
<circle cx="744.1" cy="947.2" r="4.4" fill="#ff1690"/>
<circle cx="755.1" cy="944.4" r="4.4" fill="#ff1690"/>
<circle cx="733.3" cy="961.7" r="4.4" fill="#ff1690"/>
<circle cx="744.1" cy="960.5" r="4.4" fill="#ff1690"/>
<circle cx="755.1" cy="966.9" r="4.4" fill="#ff1690"/>
<circle cx="744.1" cy="975.8" r="4.4" fill="#ff1690"/>
<circle cx="744.1" cy="984.6" r="4.4" fill="#ff1690"/>
<circle cx="781.1" cy="801.3" r="4.4" fill="#008a00"/>
<circle cx="781.1" cy="827.7" r="4.4" fill="#008a00"/>
<circle cx="781.1" cy="838.3" r="4.4" fill="#008a00"/>
<circle cx="770.3" cy="866.1" r="4.4" fill="#008a00"/>
<circle cx="792.2" cy="861.7" r="4.4" fill="#008a00"/>
<circle cx="781.1" cy="873.5" r="4.4" fill="#008a00"/>
<circle cx="781.1" cy="885.5" r="4.4" fill="#008a00"/>
<circle cx="770.3" cy="898.1" r="4.4" fill="#008a00"/>
<circle cx="781.1" cy="897.8" r="4.4" fill="#008a00"/>
<circle cx="792.2" cy="899.3" r="4.4" fill="#008a00"/>
<circle cx="792.2" cy="907.7" r="4.4" fill="#008a00"/>
<circle cx="781.1" cy="913.2" r="4.4" fill="#008a00"/>
<circle cx="775.5" cy="951.1" r="4.4" fill="#008a00"/>
<circle cx="786.3" cy="949.1" r="4.4" fill="#008a00"/>
<circle cx="818.1" cy="775.5" r="4.4" fill="#0000ff"/>
<circle cx="818.1" cy="905.8" r="4.4" fill="#0000ff"/>
<circle cx="814.7" cy="926.9" r="4.4" fill="#0000ff"/>
<circle cx="807.3" cy="932.9" r="4.4" fill="#0000ff"/>
<circle cx="821.8" cy="932.1" r="4.4" fill="#0000ff"/>
<circle cx="829.2" cy="929.9" r="4.4" fill="#0000ff"/>
<circle cx="818.1" cy="942.5" r="4.4" fill="#0000ff"/>
<circle cx="814.7" cy="950.6" r="4.4" fill="#0000ff"/>
<circle cx="821.8" cy="951.6" r="4.4" fill="#0000ff"/>
<circle cx="818.1" cy="960.2" r="4.4" fill="#0000ff"/>
<circle cx="854.6" cy="785.4" r="4.4" fill="#a00000"/>
<circle cx="854.6" cy="866.4" r="4.4" fill="#a00000"/>
<circle cx="843.9" cy="891.3" r="4.4" fill="#a00000"/>
<circle cx="843.9" cy="900.7" r="4.4" fill="#a00000"/>
<circle cx="854.6" cy="896.7" r="4.4" fill="#a00000"/>
<circle cx="865.7" cy="897.8" r="4.4" fill="#a00000"/>
<circle cx="854.6" cy="907.1" r="4.4" fill="#a00000"/>
<circle cx="849.4" cy="916.0" r="4.4" fill="#a00000"/>
<circle cx="859.8" cy="917.5" r="4.4" fill="#a00000"/>
<circle cx="854.6" cy="925.6" r="4.4" fill="#a00000"/>
<circle cx="891.6" cy="757.0" r="4.4" fill="#0000ff"/>
<circle cx="891.6" cy="891.9" r="4.4" fill="#0000ff"/>
<circle cx="880.9" cy="924.4" r="4.4" fill="#0000ff"/>
<circle cx="903.0" cy="920.3" r="4.4" fill="#0000ff"/>
<circle cx="891.6" cy="933.9" r="4.4" fill="#0000ff"/>
<circle cx="891.6" cy="962.0" r="4.4" fill="#0000ff"/>
<circle cx="880.9" cy="971.8" r="4.4" fill="#0000ff"/>
<circle cx="903.0" cy="978.7" r="4.4" fill="#0000ff"/>
<circle cx="880.9" cy="983.6" r="4.4" fill="#0000ff"/>
<circle cx="918.2" cy="745.4" r="4.4" fill="#a00000"/>
<circle cx="939.9" cy="741.9" r="4.4" fill="#a00000"/>
<circle cx="928.5" cy="820.6" r="4.4" fill="#a00000"/>
<circle cx="928.5" cy="907.0" r="4.4" fill="#a00000"/>
<circle cx="918.2" cy="919.1" r="4.4" fill="#a00000"/>
<circle cx="939.9" cy="921.5" r="4.4" fill="#a00000"/>
<circle cx="918.2" cy="927.7" r="4.4" fill="#a00000"/>
<circle cx="928.5" cy="941.0" r="4.4" fill="#a00000"/>
<circle cx="928.5" cy="970.3" r="4.4" fill="#a00000"/>
<rect x="1028.00" y="937.60" width="25.60" height="93.40" fill="#f7ace8" stroke="#000" stroke-width="3.8"/>
<rect x="1065.30" y="881.40" width="25.60" height="149.60" fill="#b6f6e0" stroke="#000" stroke-width="3.8"/>
<rect x="1102.80" y="911.30" width="25.60" height="119.70" fill="#d4d4d4" stroke="#000" stroke-width="3.8"/>
<rect x="1138.90" y="895.80" width="25.60" height="135.20" fill="#fffde2" stroke="#000" stroke-width="3.8"/>
<rect x="1176.20" y="959.40" width="25.60" height="71.60" fill="#93c2f8" stroke="#000" stroke-width="3.8"/>
<rect x="1212.20" y="893.20" width="25.60" height="137.80" fill="#fec383" stroke="#000" stroke-width="3.8"/>
<path d="M1040.80 935.70V897.60M1033.50 897.60H1048.10" stroke="#000" stroke-width="3.4" fill="none"/>
<path d="M1078.10 879.50V832.30M1070.80 832.30H1085.40" stroke="#000" stroke-width="3.4" fill="none"/>
<path d="M1115.60 909.40V836.60M1108.30 836.60H1122.90" stroke="#000" stroke-width="3.4" fill="none"/>
<path d="M1151.70 893.90V835.30M1144.40 835.30H1159.00" stroke="#000" stroke-width="3.4" fill="none"/>
<path d="M1189.00 957.50V903.50M1181.70 903.50H1196.30" stroke="#000" stroke-width="3.4" fill="none"/>
<path d="M1225.00 891.30V829.80M1217.70 829.80H1232.30" stroke="#000" stroke-width="3.4" fill="none"/>
<circle cx="1039.7" cy="864.7" r="4.4" fill="#ff1690"/>
<circle cx="1039.7" cy="886.9" r="4.4" fill="#ff1690"/>
<circle cx="1036.2" cy="899.0" r="4.4" fill="#ff1690"/>
<circle cx="1043.1" cy="906.4" r="4.4" fill="#ff1690"/>
<circle cx="1036.2" cy="910.1" r="4.4" fill="#ff1690"/>
<circle cx="1039.7" cy="925.4" r="4.4" fill="#ff1690"/>
<circle cx="1039.7" cy="933.1" r="4.4" fill="#ff1690"/>
<circle cx="1039.7" cy="943.4" r="4.4" fill="#ff1690"/>
<circle cx="1039.7" cy="954.9" r="4.4" fill="#ff1690"/>
<circle cx="1029.1" cy="969.3" r="4.4" fill="#ff1690"/>
<circle cx="1036.2" cy="970.8" r="4.4" fill="#ff1690"/>
<circle cx="1043.1" cy="974.2" r="4.4" fill="#ff1690"/>
<circle cx="1050.5" cy="973.0" r="4.4" fill="#ff1690"/>
<circle cx="1029.1" cy="978.6" r="4.4" fill="#ff1690"/>
<circle cx="1076.7" cy="786.2" r="4.4" fill="#008a00"/>
<circle cx="1076.7" cy="823.9" r="4.4" fill="#008a00"/>
<circle cx="1076.7" cy="832.2" r="4.4" fill="#008a00"/>
<circle cx="1082.3" cy="851.3" r="4.4" fill="#008a00"/>
<circle cx="1071.2" cy="856.4" r="4.4" fill="#008a00"/>
<circle cx="1066.0" cy="864.3" r="4.4" fill="#008a00"/>
<circle cx="1076.7" cy="871.2" r="4.4" fill="#008a00"/>
<circle cx="1071.2" cy="890.5" r="4.4" fill="#008a00"/>
<circle cx="1081.9" cy="893.9" r="4.4" fill="#008a00"/>
<circle cx="1066.0" cy="915.0" r="4.4" fill="#008a00"/>
<circle cx="1076.7" cy="913.5" r="4.4" fill="#008a00"/>
<circle cx="1087.5" cy="917.5" r="4.4" fill="#008a00"/>
<circle cx="1071.2" cy="942.7" r="4.4" fill="#008a00"/>
<circle cx="1081.9" cy="941.9" r="4.4" fill="#008a00"/>
<circle cx="1113.7" cy="791.1" r="4.4" fill="#0000ff"/>
<circle cx="1113.7" cy="803.2" r="4.4" fill="#0000ff"/>
<circle cx="1113.7" cy="836.5" r="4.4" fill="#0000ff"/>
<circle cx="1113.7" cy="903.5" r="4.4" fill="#0000ff"/>
<circle cx="1113.7" cy="937.9" r="4.4" fill="#0000ff"/>
<circle cx="1103.0" cy="953.8" r="4.4" fill="#0000ff"/>
<circle cx="1110.1" cy="957.5" r="4.4" fill="#0000ff"/>
<circle cx="1117.1" cy="955.2" r="4.4" fill="#0000ff"/>
<circle cx="1124.5" cy="960.4" r="4.4" fill="#0000ff"/>
<circle cx="1113.7" cy="984.1" r="4.4" fill="#0000ff"/>
<circle cx="1150.6" cy="776.3" r="4.4" fill="#a00000"/>
<circle cx="1150.6" cy="826.9" r="4.4" fill="#a00000"/>
<circle cx="1140.0" cy="871.2" r="4.4" fill="#a00000"/>
<circle cx="1161.4" cy="866.2" r="4.4" fill="#a00000"/>
<circle cx="1140.0" cy="914.6" r="4.4" fill="#a00000"/>
<circle cx="1161.4" cy="910.6" r="4.4" fill="#a00000"/>
<circle cx="1161.4" cy="920.5" r="4.4" fill="#a00000"/>
<circle cx="1140.0" cy="944.1" r="4.4" fill="#a00000"/>
<circle cx="1161.4" cy="944.9" r="4.4" fill="#a00000"/>
<circle cx="1150.6" cy="957.5" r="4.4" fill="#a00000"/>
<circle cx="1187.6" cy="843.1" r="4.4" fill="#0000ff"/>
<circle cx="1187.6" cy="933.3" r="4.4" fill="#0000ff"/>
<circle cx="1187.6" cy="948.6" r="4.4" fill="#0000ff"/>
<circle cx="1187.6" cy="958.2" r="4.4" fill="#0000ff"/>
<circle cx="1187.6" cy="969.7" r="4.4" fill="#0000ff"/>
<circle cx="1187.6" cy="980.1" r="4.4" fill="#0000ff"/>
<circle cx="1187.6" cy="1002.1" r="4.4" fill="#0000ff"/>
<circle cx="1187.6" cy="1012.7" r="4.4" fill="#0000ff"/>
<circle cx="1224.6" cy="789.1" r="4.4" fill="#a00000"/>
<circle cx="1224.6" cy="807.6" r="4.4" fill="#a00000"/>
<circle cx="1224.6" cy="887.5" r="4.4" fill="#a00000"/>
<circle cx="1213.9" cy="908.6" r="4.4" fill="#a00000"/>
<circle cx="1235.4" cy="916.0" r="4.4" fill="#a00000"/>
<circle cx="1213.9" cy="923.4" r="4.4" fill="#a00000"/>
<circle cx="1224.6" cy="932.3" r="4.4" fill="#a00000"/>
<circle cx="1224.6" cy="953.8" r="4.4" fill="#a00000"/>
<rect x="1323.90" y="947.10" width="25.60" height="83.90" fill="#f7ace8" stroke="#000" stroke-width="3.8"/>
<rect x="1361.20" y="885.10" width="25.60" height="145.90" fill="#b6f6e0" stroke="#000" stroke-width="3.8"/>
<rect x="1398.70" y="908.80" width="25.60" height="122.20" fill="#d4d4d4" stroke="#000" stroke-width="3.8"/>
<rect x="1434.80" y="868.40" width="25.60" height="162.60" fill="#fffde2" stroke="#000" stroke-width="3.8"/>
<rect x="1472.10" y="938.60" width="25.60" height="92.40" fill="#93c2f8" stroke="#000" stroke-width="3.8"/>
<rect x="1508.10" y="899.90" width="25.60" height="131.10" fill="#fec383" stroke="#000" stroke-width="3.8"/>
<path d="M1336.70 945.20V914.10M1329.40 914.10H1344.00" stroke="#000" stroke-width="3.4" fill="none"/>
<path d="M1374.00 883.20V836.50M1366.70 836.50H1381.30" stroke="#000" stroke-width="3.4" fill="none"/>
<path d="M1411.50 906.90V857.20M1404.20 857.20H1418.80" stroke="#000" stroke-width="3.4" fill="none"/>
<path d="M1447.60 866.50V824.00M1440.30 824.00H1454.90" stroke="#000" stroke-width="3.4" fill="none"/>
<path d="M1484.90 936.70V868.90M1477.60 868.90H1492.20" stroke="#000" stroke-width="3.4" fill="none"/>
<path d="M1520.90 898.00V829.80M1513.60 829.80H1528.20" stroke="#000" stroke-width="3.4" fill="none"/>
<circle cx="1332.4" cy="882.5" r="4.4" fill="#ff1690"/>
<circle cx="1338.3" cy="881.0" r="4.4" fill="#ff1690"/>
<circle cx="1335.6" cy="927.4" r="4.4" fill="#ff1690"/>
<circle cx="1329.4" cy="940.4" r="4.4" fill="#ff1690"/>
<circle cx="1340.9" cy="937.5" r="4.4" fill="#ff1690"/>
<circle cx="1335.6" cy="944.9" r="4.4" fill="#ff1690"/>
<circle cx="1329.4" cy="954.5" r="4.4" fill="#ff1690"/>
<circle cx="1346.4" cy="952.3" r="4.4" fill="#ff1690"/>
<circle cx="1324.2" cy="961.2" r="4.4" fill="#ff1690"/>
<circle cx="1335.6" cy="962.6" r="4.4" fill="#ff1690"/>
<circle cx="1341.2" cy="956.7" r="4.4" fill="#ff1690"/>
<circle cx="1346.4" cy="961.9" r="4.4" fill="#ff1690"/>
<circle cx="1338.3" cy="973.0" r="4.4" fill="#ff1690"/>
<circle cx="1332.4" cy="979.6" r="4.4" fill="#ff1690"/>
<circle cx="1372.6" cy="812.5" r="4.4" fill="#008a00"/>
<circle cx="1372.6" cy="828.0" r="4.4" fill="#008a00"/>
<circle cx="1361.9" cy="838.4" r="4.4" fill="#008a00"/>
<circle cx="1383.4" cy="841.1" r="4.4" fill="#008a00"/>
<circle cx="1372.6" cy="844.0" r="4.4" fill="#008a00"/>
<circle cx="1361.9" cy="861.0" r="4.4" fill="#008a00"/>
<circle cx="1372.6" cy="868.0" r="4.4" fill="#008a00"/>
<circle cx="1367.1" cy="901.7" r="4.4" fill="#008a00"/>
<circle cx="1377.9" cy="901.7" r="4.4" fill="#008a00"/>
<circle cx="1383.4" cy="920.5" r="4.4" fill="#008a00"/>
<circle cx="1372.6" cy="926.4" r="4.4" fill="#008a00"/>
<circle cx="1383.4" cy="931.6" r="4.4" fill="#008a00"/>
<circle cx="1372.6" cy="936.3" r="4.4" fill="#008a00"/>
<circle cx="1372.6" cy="951.2" r="4.4" fill="#008a00"/>
<circle cx="1409.6" cy="798.2" r="4.4" fill="#0000ff"/>
<circle cx="1409.6" cy="875.4" r="4.4" fill="#0000ff"/>
<circle cx="1398.9" cy="887.9" r="4.4" fill="#0000ff"/>
<circle cx="1409.6" cy="890.9" r="4.4" fill="#0000ff"/>
<circle cx="1409.6" cy="905.7" r="4.4" fill="#0000ff"/>
<circle cx="1398.9" cy="923.4" r="4.4" fill="#0000ff"/>
<circle cx="1409.6" cy="921.5" r="4.4" fill="#0000ff"/>
<circle cx="1420.7" cy="926.8" r="4.4" fill="#0000ff"/>
<circle cx="1404.1" cy="968.3" r="4.4" fill="#0000ff"/>
<circle cx="1414.7" cy="968.3" r="4.4" fill="#0000ff"/>
<circle cx="1446.5" cy="794.3" r="4.4" fill="#a00000"/>
<circle cx="1446.5" cy="824.3" r="4.4" fill="#a00000"/>
<circle cx="1435.9" cy="845.5" r="4.4" fill="#a00000"/>
<circle cx="1457.6" cy="839.9" r="4.4" fill="#a00000"/>
<circle cx="1446.5" cy="863.2" r="4.4" fill="#a00000"/>
<circle cx="1446.5" cy="871.2" r="4.4" fill="#a00000"/>
<circle cx="1446.5" cy="882.0" r="4.4" fill="#a00000"/>
<circle cx="1435.9" cy="897.3" r="4.4" fill="#a00000"/>
<circle cx="1457.6" cy="900.8" r="4.4" fill="#a00000"/>
<circle cx="1446.5" cy="933.3" r="4.4" fill="#a00000"/>
<circle cx="1483.5" cy="773.0" r="4.4" fill="#0000ff"/>
<circle cx="1483.5" cy="939.0" r="4.4" fill="#0000ff"/>
<circle cx="1472.9" cy="949.8" r="4.4" fill="#0000ff"/>
<circle cx="1494.3" cy="949.3" r="4.4" fill="#0000ff"/>
<circle cx="1472.9" cy="962.3" r="4.4" fill="#0000ff"/>
<circle cx="1494.3" cy="960.9" r="4.4" fill="#0000ff"/>
<circle cx="1483.5" cy="973.0" r="4.4" fill="#0000ff"/>
<circle cx="1483.5" cy="981.9" r="4.4" fill="#0000ff"/>
<circle cx="1520.5" cy="784.8" r="4.4" fill="#a00000"/>
<circle cx="1520.5" cy="799.9" r="4.4" fill="#a00000"/>
<circle cx="1520.5" cy="905.7" r="4.4" fill="#a00000"/>
<circle cx="1520.5" cy="914.6" r="4.4" fill="#a00000"/>
<circle cx="1520.5" cy="923.4" r="4.4" fill="#a00000"/>
<circle cx="1520.5" cy="940.2" r="4.4" fill="#a00000"/>
<circle cx="1509.9" cy="954.5" r="4.4" fill="#a00000"/>
<circle cx="1531.3" cy="954.5" r="4.4" fill="#a00000"/>
<rect x="140.02" y="1506.50" width="25.60" height="66.50" fill="#f7ace8" stroke="#000" stroke-width="3.8"/>
<rect x="176.94" y="1414.80" width="25.60" height="158.20" fill="#b6f6e0" stroke="#000" stroke-width="3.8"/>
<rect x="214.07" y="1500.60" width="25.60" height="72.40" fill="#d4d4d4" stroke="#000" stroke-width="3.8"/>
<rect x="249.81" y="1407.40" width="25.60" height="165.60" fill="#fffde2" stroke="#000" stroke-width="3.8"/>
<rect x="286.73" y="1516.10" width="25.60" height="56.90" fill="#93c2f8" stroke="#000" stroke-width="3.8"/>
<rect x="322.37" y="1432.50" width="25.60" height="140.50" fill="#fec383" stroke="#000" stroke-width="3.8"/>
<path d="M152.82 1504.60V1479.00M145.52 1479.00H160.12" stroke="#000" stroke-width="3.4" fill="none"/>
<path d="M189.74 1412.90V1348.60M182.44 1348.60H197.04" stroke="#000" stroke-width="3.4" fill="none"/>
<path d="M226.87 1498.70V1456.50M219.57 1456.50H234.17" stroke="#000" stroke-width="3.4" fill="none"/>
<path d="M262.61 1405.50V1321.50M255.31 1321.50H269.91" stroke="#000" stroke-width="3.4" fill="none"/>
<path d="M299.53 1514.20V1495.70M292.23 1495.70H306.83" stroke="#000" stroke-width="3.4" fill="none"/>
<path d="M335.17 1430.60V1374.00M327.87 1374.00H342.47" stroke="#000" stroke-width="3.4" fill="none"/>
<circle cx="152.8" cy="1446.9" r="4.4" fill="#ff1690"/>
<circle cx="152.8" cy="1464.7" r="4.4" fill="#ff1690"/>
<circle cx="152.8" cy="1475.8" r="4.4" fill="#ff1690"/>
<circle cx="156.4" cy="1498.4" r="4.4" fill="#ff1690"/>
<circle cx="163.8" cy="1504.6" r="4.4" fill="#ff1690"/>
<circle cx="142.0" cy="1510.5" r="4.4" fill="#ff1690"/>
<circle cx="149.4" cy="1508.3" r="4.4" fill="#ff1690"/>
<circle cx="156.4" cy="1509.8" r="4.4" fill="#ff1690"/>
<circle cx="149.4" cy="1515.7" r="4.4" fill="#ff1690"/>
<circle cx="156.4" cy="1518.6" r="4.4" fill="#ff1690"/>
<circle cx="163.8" cy="1518.6" r="4.4" fill="#ff1690"/>
<circle cx="149.4" cy="1525.3" r="4.4" fill="#ff1690"/>
<circle cx="156.4" cy="1530.5" r="4.4" fill="#ff1690"/>
<circle cx="152.8" cy="1538.9" r="4.4" fill="#ff1690"/>
<circle cx="189.3" cy="1261.6" r="4.4" fill="#008a00"/>
<circle cx="189.3" cy="1344.9" r="4.4" fill="#008a00"/>
<circle cx="189.3" cy="1356.5" r="4.4" fill="#008a00"/>
<circle cx="189.3" cy="1375.2" r="4.4" fill="#008a00"/>
<circle cx="189.3" cy="1392.9" r="4.4" fill="#008a00"/>
<circle cx="200.1" cy="1406.2" r="4.4" fill="#008a00"/>
<circle cx="178.7" cy="1411.4" r="4.4" fill="#008a00"/>
<circle cx="178.7" cy="1422.1" r="4.4" fill="#008a00"/>
<circle cx="200.1" cy="1422.1" r="4.4" fill="#008a00"/>
<circle cx="178.7" cy="1460.5" r="4.4" fill="#008a00"/>
<circle cx="200.1" cy="1463.2" r="4.4" fill="#008a00"/>
<circle cx="178.7" cy="1472.8" r="4.4" fill="#008a00"/>
<circle cx="200.1" cy="1477.7" r="4.4" fill="#008a00"/>
<circle cx="189.3" cy="1496.0" r="4.4" fill="#008a00"/>
<circle cx="226.0" cy="1412.2" r="4.4" fill="#0000ff"/>
<circle cx="226.0" cy="1442.2" r="4.4" fill="#0000ff"/>
<circle cx="226.0" cy="1487.9" r="4.4" fill="#0000ff"/>
<circle cx="226.0" cy="1495.4" r="4.4" fill="#0000ff"/>
<circle cx="237.0" cy="1507.8" r="4.4" fill="#0000ff"/>
<circle cx="215.5" cy="1513.8" r="4.4" fill="#0000ff"/>
<circle cx="237.0" cy="1517.2" r="4.4" fill="#0000ff"/>
<circle cx="215.5" cy="1524.6" r="4.4" fill="#0000ff"/>
<circle cx="226.0" cy="1532.7" r="4.4" fill="#0000ff"/>
<circle cx="226.0" cy="1542.3" r="4.4" fill="#0000ff"/>
<circle cx="262.6" cy="1200.4" r="4.4" fill="#a00000"/>
<circle cx="251.9" cy="1370.7" r="4.4" fill="#a00000"/>
<circle cx="273.2" cy="1371.8" r="4.4" fill="#a00000"/>
<circle cx="251.9" cy="1401.8" r="4.4" fill="#a00000"/>
<circle cx="273.2" cy="1405.2" r="4.4" fill="#a00000"/>
<circle cx="262.6" cy="1417.3" r="4.4" fill="#a00000"/>
<circle cx="273.2" cy="1452.1" r="4.4" fill="#a00000"/>
<circle cx="251.9" cy="1458.4" r="4.4" fill="#a00000"/>
<circle cx="262.6" cy="1476.8" r="4.4" fill="#a00000"/>
<circle cx="262.6" cy="1490.1" r="4.4" fill="#a00000"/>
<circle cx="299.1" cy="1478.7" r="4.4" fill="#0000ff"/>
<circle cx="288.4" cy="1503.9" r="4.4" fill="#0000ff"/>
<circle cx="299.1" cy="1505.8" r="4.4" fill="#0000ff"/>
<circle cx="309.9" cy="1503.9" r="4.4" fill="#0000ff"/>
<circle cx="288.4" cy="1517.2" r="4.4" fill="#0000ff"/>
<circle cx="309.9" cy="1520.1" r="4.4" fill="#0000ff"/>
<circle cx="299.1" cy="1523.8" r="4.4" fill="#0000ff"/>
<circle cx="293.6" cy="1535.4" r="4.4" fill="#0000ff"/>
<circle cx="304.3" cy="1535.4" r="4.4" fill="#0000ff"/>
<circle cx="335.5" cy="1332.3" r="4.4" fill="#a00000"/>
<circle cx="335.5" cy="1369.8" r="4.4" fill="#a00000"/>
<circle cx="325.0" cy="1412.6" r="4.4" fill="#a00000"/>
<circle cx="346.4" cy="1412.6" r="4.4" fill="#a00000"/>
<circle cx="325.0" cy="1432.9" r="4.4" fill="#a00000"/>
<circle cx="346.4" cy="1438.3" r="4.4" fill="#a00000"/>
<circle cx="335.5" cy="1478.0" r="4.4" fill="#a00000"/>
<circle cx="325.0" cy="1498.4" r="4.4" fill="#a00000"/>
<circle cx="346.4" cy="1498.4" r="4.4" fill="#a00000"/>
<rect x="432.27" y="1522.50" width="25.60" height="50.50" fill="#f7ace8" stroke="#000" stroke-width="3.8"/>
<rect x="469.19" y="1462.40" width="25.60" height="110.60" fill="#b6f6e0" stroke="#000" stroke-width="3.8"/>
<rect x="506.32" y="1502.10" width="25.60" height="70.90" fill="#d4d4d4" stroke="#000" stroke-width="3.8"/>
<rect x="542.06" y="1429.30" width="25.60" height="143.70" fill="#fffde2" stroke="#000" stroke-width="3.8"/>
<rect x="578.98" y="1415.40" width="25.60" height="157.60" fill="#93c2f8" stroke="#000" stroke-width="3.8"/>
<rect x="614.62" y="1401.50" width="25.60" height="171.50" fill="#fec383" stroke="#000" stroke-width="3.8"/>
<path d="M445.07 1520.60V1498.20M437.77 1498.20H452.37" stroke="#000" stroke-width="3.4" fill="none"/>
<path d="M481.99 1460.50V1427.70M474.69 1427.70H489.29" stroke="#000" stroke-width="3.4" fill="none"/>
<path d="M519.12 1500.20V1479.50M511.82 1479.50H526.42" stroke="#000" stroke-width="3.4" fill="none"/>
<path d="M554.86 1427.40V1391.40M547.56 1391.40H562.16" stroke="#000" stroke-width="3.4" fill="none"/>
<path d="M591.78 1413.50V1350.30M584.48 1350.30H599.08" stroke="#000" stroke-width="3.4" fill="none"/>
<path d="M627.42 1399.60V1346.00M620.12 1346.00H634.72" stroke="#000" stroke-width="3.4" fill="none"/>
<circle cx="445.1" cy="1463.9" r="4.4" fill="#ff1690"/>
<circle cx="445.1" cy="1499.9" r="4.4" fill="#ff1690"/>
<circle cx="450.3" cy="1505.8" r="4.4" fill="#ff1690"/>
<circle cx="443.7" cy="1508.3" r="4.4" fill="#ff1690"/>
<circle cx="434.5" cy="1520.1" r="4.4" fill="#ff1690"/>
<circle cx="443.7" cy="1523.8" r="4.4" fill="#ff1690"/>
<circle cx="451.1" cy="1521.6" r="4.4" fill="#ff1690"/>
<circle cx="434.5" cy="1528.0" r="4.4" fill="#ff1690"/>
<circle cx="440.0" cy="1530.5" r="4.4" fill="#ff1690"/>
<circle cx="457.0" cy="1528.3" r="4.4" fill="#ff1690"/>
<circle cx="445.1" cy="1534.9" r="4.4" fill="#ff1690"/>
<circle cx="451.1" cy="1534.2" r="4.4" fill="#ff1690"/>
<circle cx="445.1" cy="1551.6" r="4.4" fill="#ff1690"/>
<circle cx="448.8" cy="1526.8" r="4.4" fill="#ff1690"/>
<circle cx="478.1" cy="1418.8" r="4.4" fill="#008a00"/>
<circle cx="485.1" cy="1417.0" r="4.4" fill="#008a00"/>
<circle cx="471.0" cy="1444.7" r="4.4" fill="#008a00"/>
<circle cx="485.1" cy="1447.2" r="4.4" fill="#008a00"/>
<circle cx="492.5" cy="1451.6" r="4.4" fill="#008a00"/>
<circle cx="471.0" cy="1455.0" r="4.4" fill="#008a00"/>
<circle cx="478.1" cy="1458.7" r="4.4" fill="#008a00"/>
<circle cx="485.1" cy="1456.5" r="4.4" fill="#008a00"/>
<circle cx="492.5" cy="1459.9" r="4.4" fill="#008a00"/>
<circle cx="478.1" cy="1471.3" r="4.4" fill="#008a00"/>
<circle cx="485.1" cy="1476.2" r="4.4" fill="#008a00"/>
<circle cx="481.8" cy="1537.9" r="4.4" fill="#008a00"/>
<circle cx="481.8" cy="1452.8" r="4.4" fill="#008a00"/>
<circle cx="518.1" cy="1463.2" r="4.4" fill="#0000ff"/>
<circle cx="507.3" cy="1483.9" r="4.4" fill="#0000ff"/>
<circle cx="529.2" cy="1484.6" r="4.4" fill="#0000ff"/>
<circle cx="518.1" cy="1488.3" r="4.4" fill="#0000ff"/>
<circle cx="507.3" cy="1492.5" r="4.4" fill="#0000ff"/>
<circle cx="507.3" cy="1509.8" r="4.4" fill="#0000ff"/>
<circle cx="518.1" cy="1509.0" r="4.4" fill="#0000ff"/>
<circle cx="529.2" cy="1515.7" r="4.4" fill="#0000ff"/>
<circle cx="518.1" cy="1520.1" r="4.4" fill="#0000ff"/>
<circle cx="518.1" cy="1532.7" r="4.4" fill="#0000ff"/>
<circle cx="554.6" cy="1368.6" r="4.4" fill="#a00000"/>
<circle cx="543.9" cy="1402.8" r="4.4" fill="#a00000"/>
<circle cx="554.6" cy="1398.1" r="4.4" fill="#a00000"/>
<circle cx="565.7" cy="1395.9" r="4.4" fill="#a00000"/>
<circle cx="554.6" cy="1422.5" r="4.4" fill="#a00000"/>
<circle cx="554.6" cy="1430.6" r="4.4" fill="#a00000"/>
<circle cx="554.6" cy="1449.9" r="4.4" fill="#a00000"/>
<circle cx="565.7" cy="1446.9" r="4.4" fill="#a00000"/>
<circle cx="549.4" cy="1472.1" r="4.4" fill="#a00000"/>
<circle cx="559.8" cy="1470.6" r="4.4" fill="#a00000"/>
<circle cx="591.1" cy="1287.3" r="4.4" fill="#0000ff"/>
<circle cx="580.5" cy="1376.7" r="4.4" fill="#0000ff"/>
<circle cx="602.2" cy="1377.4" r="4.4" fill="#0000ff"/>
<circle cx="591.1" cy="1383.3" r="4.4" fill="#0000ff"/>
<circle cx="591.1" cy="1430.3" r="4.4" fill="#0000ff"/>
<circle cx="591.1" cy="1446.6" r="4.4" fill="#0000ff"/>
<circle cx="591.1" cy="1471.3" r="4.4" fill="#0000ff"/>
<circle cx="580.5" cy="1479.2" r="4.4" fill="#0000ff"/>
<circle cx="602.2" cy="1476.2" r="4.4" fill="#0000ff"/>
<circle cx="627.8" cy="1322.8" r="4.4" fill="#a00000"/>
<circle cx="627.8" cy="1342.5" r="4.4" fill="#a00000"/>
<circle cx="627.8" cy="1370.0" r="4.4" fill="#a00000"/>
<circle cx="617.0" cy="1378.1" r="4.4" fill="#a00000"/>
<circle cx="638.6" cy="1376.7" r="4.4" fill="#a00000"/>
<circle cx="627.8" cy="1424.0" r="4.4" fill="#a00000"/>
<circle cx="627.8" cy="1444.7" r="4.4" fill="#a00000"/>
<circle cx="638.6" cy="1459.0" r="4.4" fill="#a00000"/>
<circle cx="617.0" cy="1463.9" r="4.4" fill="#a00000"/>
<rect x="724.52" y="1520.90" width="25.60" height="52.10" fill="#f7ace8" stroke="#000" stroke-width="3.8"/>
<rect x="761.44" y="1458.40" width="25.60" height="114.60" fill="#b6f6e0" stroke="#000" stroke-width="3.8"/>
<rect x="798.57" y="1496.40" width="25.60" height="76.60" fill="#d4d4d4" stroke="#000" stroke-width="3.8"/>
<rect x="834.31" y="1399.60" width="25.60" height="173.40" fill="#fffde2" stroke="#000" stroke-width="3.8"/>
<rect x="871.23" y="1445.80" width="25.60" height="127.20" fill="#93c2f8" stroke="#000" stroke-width="3.8"/>
<rect x="906.87" y="1352.60" width="25.60" height="220.40" fill="#fec383" stroke="#000" stroke-width="3.8"/>
<path d="M737.32 1519.00V1487.50M730.02 1487.50H744.62" stroke="#000" stroke-width="3.4" fill="none"/>
<path d="M774.24 1456.50V1417.30M766.94 1417.30H781.54" stroke="#000" stroke-width="3.4" fill="none"/>
<path d="M811.37 1494.50V1465.30M804.07 1465.30H818.67" stroke="#000" stroke-width="3.4" fill="none"/>
<path d="M847.11 1397.70V1338.10M839.81 1338.10H854.41" stroke="#000" stroke-width="3.4" fill="none"/>
<path d="M884.03 1443.90V1318.10M876.73 1318.10H891.33" stroke="#000" stroke-width="3.4" fill="none"/>
<path d="M919.67 1350.70V1216.60M912.37 1216.60H926.97" stroke="#000" stroke-width="2.4" fill="none"/>
<circle cx="737.2" cy="1436.8" r="4.4" fill="#ff1690"/>
<circle cx="737.2" cy="1478.2" r="4.4" fill="#ff1690"/>
<circle cx="737.2" cy="1494.9" r="4.4" fill="#ff1690"/>
<circle cx="737.2" cy="1509.7" r="4.4" fill="#ff1690"/>
<circle cx="733.8" cy="1518.1" r="4.4" fill="#ff1690"/>
<circle cx="726.8" cy="1526.0" r="4.4" fill="#ff1690"/>
<circle cx="733.8" cy="1528.9" r="4.4" fill="#ff1690"/>
<circle cx="748.3" cy="1523.8" r="4.4" fill="#ff1690"/>
<circle cx="726.8" cy="1535.6" r="4.4" fill="#ff1690"/>
<circle cx="740.9" cy="1534.4" r="4.4" fill="#ff1690"/>
<circle cx="748.3" cy="1533.4" r="4.4" fill="#ff1690"/>
<circle cx="733.8" cy="1540.0" r="4.4" fill="#ff1690"/>
<circle cx="733.8" cy="1551.9" r="4.4" fill="#ff1690"/>
<circle cx="740.9" cy="1551.1" r="4.4" fill="#ff1690"/>
<circle cx="773.9" cy="1378.5" r="4.4" fill="#008a00"/>
<circle cx="773.9" cy="1405.7" r="4.4" fill="#008a00"/>
<circle cx="763.1" cy="1422.0" r="4.4" fill="#008a00"/>
<circle cx="773.9" cy="1428.8" r="4.4" fill="#008a00"/>
<circle cx="773.9" cy="1438.0" r="4.4" fill="#008a00"/>
<circle cx="763.1" cy="1452.8" r="4.4" fill="#008a00"/>
<circle cx="784.5" cy="1452.0" r="4.4" fill="#008a00"/>
<circle cx="773.9" cy="1457.5" r="4.4" fill="#008a00"/>
<circle cx="784.5" cy="1473.2" r="4.4" fill="#008a00"/>
<circle cx="763.1" cy="1477.6" r="4.4" fill="#008a00"/>
<circle cx="773.9" cy="1480.1" r="4.4" fill="#008a00"/>
<circle cx="773.9" cy="1489.0" r="4.4" fill="#008a00"/>
<circle cx="768.2" cy="1509.0" r="4.4" fill="#008a00"/>
<circle cx="779.0" cy="1508.2" r="4.4" fill="#008a00"/>
<circle cx="810.4" cy="1424.4" r="4.4" fill="#0000ff"/>
<circle cx="810.4" cy="1473.5" r="4.4" fill="#0000ff"/>
<circle cx="799.6" cy="1488.6" r="4.4" fill="#0000ff"/>
<circle cx="799.6" cy="1498.3" r="4.4" fill="#0000ff"/>
<circle cx="810.4" cy="1495.4" r="4.4" fill="#0000ff"/>
<circle cx="821.2" cy="1496.8" r="4.4" fill="#0000ff"/>
<circle cx="810.4" cy="1504.5" r="4.4" fill="#0000ff"/>
<circle cx="810.4" cy="1517.8" r="4.4" fill="#0000ff"/>
<circle cx="799.6" cy="1522.3" r="4.4" fill="#0000ff"/>
<circle cx="821.2" cy="1522.0" r="4.4" fill="#0000ff"/>
<circle cx="836.6" cy="1297.1" r="4.4" fill="#a00000"/>
<circle cx="847.1" cy="1302.7" r="4.4" fill="#a00000"/>
<circle cx="847.1" cy="1384.4" r="4.4" fill="#a00000"/>
<circle cx="836.6" cy="1396.3" r="4.4" fill="#a00000"/>
<circle cx="847.1" cy="1402.5" r="4.4" fill="#a00000"/>
<circle cx="836.6" cy="1414.3" r="4.4" fill="#a00000"/>
<circle cx="847.1" cy="1415.5" r="4.4" fill="#a00000"/>
<circle cx="858.2" cy="1414.6" r="4.4" fill="#a00000"/>
<circle cx="847.1" cy="1465.3" r="4.4" fill="#a00000"/>
<circle cx="847.1" cy="1476.4" r="4.4" fill="#a00000"/>
<circle cx="883.6" cy="1128.5" r="4.4" fill="#0000ff"/>
<circle cx="883.6" cy="1397.7" r="4.4" fill="#0000ff"/>
<circle cx="883.6" cy="1451.3" r="4.4" fill="#0000ff"/>
<circle cx="878.1" cy="1477.6" r="4.4" fill="#0000ff"/>
<circle cx="889.1" cy="1474.7" r="4.4" fill="#0000ff"/>
<circle cx="883.6" cy="1489.0" r="4.4" fill="#0000ff"/>
<circle cx="873.0" cy="1524.5" r="4.4" fill="#0000ff"/>
<circle cx="883.6" cy="1522.3" r="4.4" fill="#0000ff"/>
<circle cx="894.7" cy="1523.8" r="4.4" fill="#0000ff"/>
<circle cx="920.1" cy="1121.5" r="4.4" fill="#a00000"/>
<circle cx="920.1" cy="1133.7" r="4.4" fill="#a00000"/>
<circle cx="920.1" cy="1343.0" r="4.4" fill="#a00000"/>
<circle cx="920.1" cy="1354.8" r="4.4" fill="#a00000"/>
<circle cx="920.1" cy="1396.3" r="4.4" fill="#a00000"/>
<circle cx="920.1" cy="1431.8" r="4.4" fill="#a00000"/>
<circle cx="909.9" cy="1447.6" r="4.4" fill="#a00000"/>
<circle cx="930.9" cy="1447.6" r="4.4" fill="#a00000"/>
<circle cx="920.1" cy="1467.8" r="4.4" fill="#a00000"/>
<rect x="1016.77" y="1523.50" width="25.60" height="49.50" fill="#f7ace8" stroke="#000" stroke-width="3.8"/>
<rect x="1053.69" y="1461.40" width="25.60" height="111.60" fill="#b6f6e0" stroke="#000" stroke-width="3.8"/>
<rect x="1090.82" y="1501.00" width="25.60" height="72.00" fill="#d4d4d4" stroke="#000" stroke-width="3.8"/>
<rect x="1126.56" y="1421.40" width="25.60" height="151.60" fill="#fffde2" stroke="#000" stroke-width="3.8"/>
<rect x="1163.48" y="1519.80" width="25.60" height="53.20" fill="#93c2f8" stroke="#000" stroke-width="3.8"/>
<rect x="1199.12" y="1385.60" width="25.60" height="187.40" fill="#fec383" stroke="#000" stroke-width="3.8"/>
<path d="M1029.57 1521.60V1501.20M1022.27 1501.20H1036.87" stroke="#000" stroke-width="3.4" fill="none"/>
<path d="M1066.49 1459.50V1421.60M1059.19 1421.60H1073.79" stroke="#000" stroke-width="3.4" fill="none"/>
<path d="M1103.62 1499.10V1451.80M1096.32 1451.80H1110.92" stroke="#000" stroke-width="3.4" fill="none"/>
<path d="M1139.36 1419.50V1341.00M1132.06 1341.00H1146.66" stroke="#000" stroke-width="3.4" fill="none"/>
<path d="M1176.28 1517.90V1479.70M1168.98 1479.70H1183.58" stroke="#000" stroke-width="3.4" fill="none"/>
<path d="M1211.92 1383.70V1305.20M1204.62 1305.20H1219.22" stroke="#000" stroke-width="3.4" fill="none"/>
<circle cx="1019.2" cy="1489.8" r="4.4" fill="#ff1690"/>
<circle cx="1019.2" cy="1499.4" r="4.4" fill="#ff1690"/>
<circle cx="1029.7" cy="1498.6" r="4.4" fill="#ff1690"/>
<circle cx="1040.8" cy="1497.6" r="4.4" fill="#ff1690"/>
<circle cx="1040.8" cy="1510.5" r="4.4" fill="#ff1690"/>
<circle cx="1029.7" cy="1514.5" r="4.4" fill="#ff1690"/>
<circle cx="1019.2" cy="1519.8" r="4.4" fill="#ff1690"/>
<circle cx="1029.7" cy="1522.3" r="4.4" fill="#ff1690"/>
<circle cx="1019.2" cy="1530.2" r="4.4" fill="#ff1690"/>
<circle cx="1040.8" cy="1530.2" r="4.4" fill="#ff1690"/>
<circle cx="1029.7" cy="1534.9" r="4.4" fill="#ff1690"/>
<circle cx="1029.7" cy="1543.0" r="4.4" fill="#ff1690"/>
<circle cx="1019.2" cy="1547.9" r="4.4" fill="#ff1690"/>
<circle cx="1040.8" cy="1547.5" r="4.4" fill="#ff1690"/>
<circle cx="1066.2" cy="1381.5" r="4.4" fill="#008a00"/>
<circle cx="1066.2" cy="1410.9" r="4.4" fill="#008a00"/>
<circle cx="1066.2" cy="1418.8" r="4.4" fill="#008a00"/>
<circle cx="1066.2" cy="1431.6" r="4.4" fill="#008a00"/>
<circle cx="1066.2" cy="1446.9" r="4.4" fill="#008a00"/>
<circle cx="1066.2" cy="1455.0" r="4.4" fill="#008a00"/>
<circle cx="1055.9" cy="1469.1" r="4.4" fill="#008a00"/>
<circle cx="1066.2" cy="1468.3" r="4.4" fill="#008a00"/>
<circle cx="1077.3" cy="1466.8" r="4.4" fill="#008a00"/>
<circle cx="1055.9" cy="1482.8" r="4.4" fill="#008a00"/>
<circle cx="1066.2" cy="1480.2" r="4.4" fill="#008a00"/>
<circle cx="1077.3" cy="1487.8" r="4.4" fill="#008a00"/>
<circle cx="1066.2" cy="1501.6" r="4.4" fill="#008a00"/>
<circle cx="1066.2" cy="1512.0" r="4.4" fill="#008a00"/>
<circle cx="1102.9" cy="1392.9" r="4.4" fill="#0000ff"/>
<circle cx="1102.9" cy="1451.3" r="4.4" fill="#0000ff"/>
<circle cx="1102.9" cy="1477.9" r="4.4" fill="#0000ff"/>
<circle cx="1102.9" cy="1503.5" r="4.4" fill="#0000ff"/>
<circle cx="1113.5" cy="1513.4" r="4.4" fill="#0000ff"/>
<circle cx="1092.1" cy="1521.6" r="4.4" fill="#0000ff"/>
<circle cx="1102.9" cy="1517.9" r="4.4" fill="#0000ff"/>
<circle cx="1113.5" cy="1522.3" r="4.4" fill="#0000ff"/>
<circle cx="1102.9" cy="1538.6" r="4.4" fill="#0000ff"/>
<circle cx="1102.9" cy="1548.2" r="4.4" fill="#0000ff"/>
<circle cx="1129.1" cy="1315.3" r="4.4" fill="#a00000"/>
<circle cx="1150.2" cy="1309.1" r="4.4" fill="#a00000"/>
<circle cx="1139.4" cy="1335.3" r="4.4" fill="#a00000"/>
<circle cx="1139.4" cy="1400.0" r="4.4" fill="#a00000"/>
<circle cx="1139.4" cy="1410.3" r="4.4" fill="#a00000"/>
<circle cx="1129.1" cy="1454.7" r="4.4" fill="#a00000"/>
<circle cx="1150.2" cy="1458.7" r="4.4" fill="#a00000"/>
<circle cx="1139.4" cy="1479.4" r="4.4" fill="#a00000"/>
<circle cx="1129.1" cy="1513.4" r="4.4" fill="#a00000"/>
<circle cx="1150.2" cy="1509.0" r="4.4" fill="#a00000"/>
<circle cx="1176.0" cy="1439.9" r="4.4" fill="#0000ff"/>
<circle cx="1176.0" cy="1484.6" r="4.4" fill="#0000ff"/>
<circle cx="1186.7" cy="1520.1" r="4.4" fill="#0000ff"/>
<circle cx="1165.3" cy="1524.5" r="4.4" fill="#0000ff"/>
<circle cx="1186.7" cy="1530.4" r="4.4" fill="#0000ff"/>
<circle cx="1165.3" cy="1539.3" r="4.4" fill="#0000ff"/>
<circle cx="1186.7" cy="1540.5" r="4.4" fill="#0000ff"/>
<circle cx="1176.0" cy="1553.8" r="4.4" fill="#0000ff"/>
<circle cx="1212.3" cy="1255.1" r="4.4" fill="#a00000"/>
<circle cx="1212.3" cy="1288.4" r="4.4" fill="#a00000"/>
<circle cx="1212.3" cy="1370.4" r="4.4" fill="#a00000"/>
<circle cx="1212.3" cy="1392.2" r="4.4" fill="#a00000"/>
<circle cx="1212.3" cy="1406.5" r="4.4" fill="#a00000"/>
<circle cx="1202.3" cy="1430.6" r="4.4" fill="#a00000"/>
<circle cx="1223.3" cy="1432.8" r="4.4" fill="#a00000"/>
<circle cx="1212.3" cy="1489.0" r="4.4" fill="#a00000"/>
<rect x="1309.02" y="1527.20" width="25.60" height="45.80" fill="#f7ace8" stroke="#000" stroke-width="3.8"/>
<rect x="1345.94" y="1461.40" width="25.60" height="111.60" fill="#b6f6e0" stroke="#000" stroke-width="3.8"/>
<rect x="1383.07" y="1511.30" width="25.60" height="61.70" fill="#d4d4d4" stroke="#000" stroke-width="3.8"/>
<rect x="1418.81" y="1415.20" width="25.60" height="157.80" fill="#fffde2" stroke="#000" stroke-width="3.8"/>
<rect x="1455.73" y="1511.30" width="25.60" height="61.70" fill="#93c2f8" stroke="#000" stroke-width="3.8"/>
<rect x="1491.37" y="1411.40" width="25.60" height="161.60" fill="#fec383" stroke="#000" stroke-width="3.8"/>
<path d="M1321.82 1525.30V1504.10M1314.52 1504.10H1329.12" stroke="#000" stroke-width="3.4" fill="none"/>
<path d="M1358.74 1459.50V1424.00M1351.44 1424.00H1366.04" stroke="#000" stroke-width="3.4" fill="none"/>
<path d="M1395.87 1509.40V1484.90M1388.57 1484.90H1403.17" stroke="#000" stroke-width="3.4" fill="none"/>
<path d="M1431.61 1413.30V1366.60M1424.31 1366.60H1438.91" stroke="#000" stroke-width="3.4" fill="none"/>
<path d="M1468.53 1509.40V1465.40M1461.23 1465.40H1475.83" stroke="#000" stroke-width="3.4" fill="none"/>
<path d="M1504.17 1409.50V1350.20M1496.87 1350.20H1511.47" stroke="#000" stroke-width="3.4" fill="none"/>
<circle cx="1322.2" cy="1490.2" r="4.4" fill="#ff1690"/>
<circle cx="1328.1" cy="1489.8" r="4.4" fill="#ff1690"/>
<circle cx="1322.2" cy="1500.1" r="4.4" fill="#ff1690"/>
<circle cx="1322.2" cy="1510.5" r="4.4" fill="#ff1690"/>
<circle cx="1317.5" cy="1512.7" r="4.4" fill="#ff1690"/>
<circle cx="1317.5" cy="1526.7" r="4.4" fill="#ff1690"/>
<circle cx="1322.2" cy="1526.0" r="4.4" fill="#ff1690"/>
<circle cx="1328.1" cy="1523.8" r="4.4" fill="#ff1690"/>
<circle cx="1311.1" cy="1539.6" r="4.4" fill="#ff1690"/>
<circle cx="1317.5" cy="1540.8" r="4.4" fill="#ff1690"/>
<circle cx="1322.2" cy="1543.8" r="4.4" fill="#ff1690"/>
<circle cx="1328.1" cy="1545.2" r="4.4" fill="#ff1690"/>
<circle cx="1332.8" cy="1540.8" r="4.4" fill="#ff1690"/>
<circle cx="1316.6" cy="1551.4" r="4.4" fill="#ff1690"/>
<circle cx="1353.2" cy="1410.6" r="4.4" fill="#008a00"/>
<circle cx="1363.9" cy="1409.2" r="4.4" fill="#008a00"/>
<circle cx="1353.2" cy="1425.4" r="4.4" fill="#008a00"/>
<circle cx="1363.9" cy="1425.4" r="4.4" fill="#008a00"/>
<circle cx="1369.5" cy="1440.5" r="4.4" fill="#008a00"/>
<circle cx="1358.7" cy="1446.9" r="4.4" fill="#008a00"/>
<circle cx="1358.7" cy="1455.8" r="4.4" fill="#008a00"/>
<circle cx="1348.1" cy="1471.6" r="4.4" fill="#008a00"/>
<circle cx="1358.7" cy="1468.3" r="4.4" fill="#008a00"/>
<circle cx="1369.5" cy="1469.1" r="4.4" fill="#008a00"/>
<circle cx="1353.2" cy="1487.3" r="4.4" fill="#008a00"/>
<circle cx="1363.9" cy="1484.6" r="4.4" fill="#008a00"/>
<circle cx="1358.7" cy="1505.6" r="4.4" fill="#008a00"/>
<circle cx="1358.7" cy="1521.6" r="4.4" fill="#008a00"/>
<circle cx="1395.1" cy="1460.2" r="4.4" fill="#0000ff"/>
<circle cx="1395.1" cy="1488.3" r="4.4" fill="#0000ff"/>
<circle cx="1384.3" cy="1502.0" r="4.4" fill="#0000ff"/>
<circle cx="1395.1" cy="1501.2" r="4.4" fill="#0000ff"/>
<circle cx="1406.2" cy="1503.5" r="4.4" fill="#0000ff"/>
<circle cx="1384.3" cy="1512.7" r="4.4" fill="#0000ff"/>
<circle cx="1406.2" cy="1515.4" r="4.4" fill="#0000ff"/>
<circle cx="1395.1" cy="1520.8" r="4.4" fill="#0000ff"/>
<circle cx="1389.5" cy="1543.0" r="4.4" fill="#0000ff"/>
<circle cx="1400.3" cy="1538.6" r="4.4" fill="#0000ff"/>
<circle cx="1421.0" cy="1357.1" r="4.4" fill="#a00000"/>
<circle cx="1442.3" cy="1356.7" r="4.4" fill="#a00000"/>
<circle cx="1431.3" cy="1366.0" r="4.4" fill="#a00000"/>
<circle cx="1421.0" cy="1393.2" r="4.4" fill="#a00000"/>
<circle cx="1442.3" cy="1394.1" r="4.4" fill="#a00000"/>
<circle cx="1421.0" cy="1431.6" r="4.4" fill="#a00000"/>
<circle cx="1442.3" cy="1432.1" r="4.4" fill="#a00000"/>
<circle cx="1431.3" cy="1443.9" r="4.4" fill="#a00000"/>
<circle cx="1431.3" cy="1456.5" r="4.4" fill="#a00000"/>
<circle cx="1431.3" cy="1489.0" r="4.4" fill="#a00000"/>
<circle cx="1468.2" cy="1404.7" r="4.4" fill="#0000ff"/>
<circle cx="1468.2" cy="1497.9" r="4.4" fill="#0000ff"/>
<circle cx="1471.6" cy="1521.6" r="4.4" fill="#0000ff"/>
<circle cx="1457.5" cy="1526.7" r="4.4" fill="#0000ff"/>
<circle cx="1464.2" cy="1526.0" r="4.4" fill="#0000ff"/>
<circle cx="1479.0" cy="1528.2" r="4.4" fill="#0000ff"/>
<circle cx="1471.6" cy="1532.2" r="4.4" fill="#0000ff"/>
<circle cx="1457.5" cy="1535.2" r="4.4" fill="#0000ff"/>
<circle cx="1504.6" cy="1279.5" r="4.4" fill="#a00000"/>
<circle cx="1504.6" cy="1369.2" r="4.4" fill="#a00000"/>
<circle cx="1515.6" cy="1421.0" r="4.4" fill="#a00000"/>
<circle cx="1504.6" cy="1426.2" r="4.4" fill="#a00000"/>
<circle cx="1504.6" cy="1434.6" r="4.4" fill="#a00000"/>
<circle cx="1494.2" cy="1445.8" r="4.4" fill="#a00000"/>
<circle cx="1504.6" cy="1443.5" r="4.4" fill="#a00000"/>
<circle cx="1515.6" cy="1445.8" r="4.4" fill="#a00000"/>
<path d="M143.0 238.2V209.4H186.7V238.2" stroke="#000" stroke-width="3.6" fill="none"/>
<text x="130.7" y="200.2" font-size="25">&lt;0.0001</text>
<path d="M220.2 176.4V147.6H264.0V176.4" stroke="#000" stroke-width="3.6" fill="none"/>
<text x="208.8" y="137.7" font-size="25">0.0004</text>
<path d="M294.8 135.4V106.2H338.5V135.4" stroke="#000" stroke-width="3.6" fill="none"/>
<text x="291.6" y="95.0" font-size="25">0.001</text>
<path d="M437.6 192.8V163.9H481.0V192.8" stroke="#000" stroke-width="3.6" fill="none"/>
<text x="423.9" y="152.9" font-size="25">&lt;0.0001</text>
<path d="M514.7 136.6V109.2H557.9V136.6" stroke="#000" stroke-width="3.6" fill="none"/>
<text x="491.9" y="97.7" font-size="25">&lt;0.0001</text>
<path d="M738.1 213.7V186.3H781.9V213.7" stroke="#000" stroke-width="3.6" fill="none"/>
<text x="722.2" y="172.3" font-size="25">0.0003</text>
<path d="M810.4 109.9V82.1H853.9V109.9" stroke="#000" stroke-width="3.6" fill="none"/>
<text x="784.0" y="65.9" font-size="25">&lt;0.0001</text>
<path d="M885.0 132.5V105.1H928.8V132.5" stroke="#000" stroke-width="3.6" fill="none"/>
<text x="876.9" y="92.9" font-size="25">0.0005</text>
<path d="M1031.8 215.0V186.1H1075.3V215.0" stroke="#000" stroke-width="3.6" fill="none"/>
<text x="1029.4" y="172.4" font-size="25">0.02</text>
<path d="M1106.3 137.9V110.3H1149.8V137.9" stroke="#000" stroke-width="3.6" fill="none"/>
<text x="1079.0" y="91.5" font-size="25">&lt;0.0001</text>
<path d="M1174.4 153.4V126.2H1218.2V153.4" stroke="#000" stroke-width="3.6" fill="none"/>
<text x="1158.1" y="111.7" font-size="25">&lt;0.0001</text>
<path d="M1323.5 237.9V210.9H1367.2V237.9" stroke="#000" stroke-width="3.6" fill="none"/>
<text x="1319.4" y="196.8" font-size="25">0.001</text>
<path d="M1399.3 205.7V179.1H1443.0V205.7" stroke="#000" stroke-width="3.6" fill="none"/>
<text x="1374.2" y="164.6" font-size="25">&lt;0.0001</text>
<path d="M1475.3 144.0V115.8H1518.9V144.0" stroke="#000" stroke-width="3.6" fill="none"/>
<text x="1452.5" y="95.9" font-size="25">&lt;0.0001</text>
<path d="M151.2 683.6V651.1H190.1V683.6" stroke="#000" stroke-width="3.6" fill="none"/>
<text x="146.4" y="636.2" font-size="25">0.04</text>
<path d="M149.9 1252.9V1224.7H184.4V1252.9" stroke="#000" stroke-width="3.6" fill="none"/>
<text x="125.1" y="1210.6" font-size="25">&lt;0.0001</text>
<path d="M229.5 1289.0V1260.5H264.1V1289.0" stroke="#000" stroke-width="3.6" fill="none"/>
<text x="214.4" y="1249.2" font-size="25">0.0015</text>
<path d="M300.0 1311.9V1283.6H334.5V1311.9" stroke="#000" stroke-width="3.6" fill="none"/>
<text x="297.2" y="1269.2" font-size="25">0.01</text>
<path d="M438.3 1291.7V1264.3H473.0V1291.7" stroke="#000" stroke-width="3.6" fill="none"/>
<text x="434.0" y="1252.1" font-size="25">0.05</text>
<path d="M511.5 1319.8V1292.8H545.9V1319.8" stroke="#000" stroke-width="3.6" fill="none"/>
<text x="503.9" y="1282.9" font-size="25">0.02</text>
<path d="M740.9 1347.5V1320.4H775.3V1347.5" stroke="#000" stroke-width="3.6" fill="none"/>
<text x="740.2" y="1306.4" font-size="25">0.2</text>
<path d="M813.9 1296.8V1267.9H848.3V1296.8" stroke="#000" stroke-width="3.6" fill="none"/>
<text x="795.0" y="1256.4" font-size="25">0.0007</text>
<path d="M884.4 1205.8V1178.4H918.9V1205.8" stroke="#000" stroke-width="3.6" fill="none"/>
<text x="870.7" y="1166.2" font-size="25">0.002</text>
<path d="M1026.8 1336.3V1308.0H1061.2V1336.3" stroke="#000" stroke-width="3.6" fill="none"/>
<text x="1016.3" y="1294.9" font-size="25">0.02</text>
<path d="M1102.2 1299.0V1270.9H1137.0V1299.0" stroke="#000" stroke-width="3.6" fill="none"/>
<text x="1091.4" y="1260.3" font-size="25">0.011</text>
<path d="M1177.7 1233.7V1207.0H1212.5V1233.7" stroke="#000" stroke-width="3.6" fill="none"/>
<text x="1143.8" y="1194.3" font-size="25">&lt;0.0001</text>
<path d="M1321.2 1333.8V1305.3H1356.0V1333.8" stroke="#000" stroke-width="3.6" fill="none"/>
<text x="1311.5" y="1295.3" font-size="25">0.01</text>
<path d="M1394.4 1281.3V1254.3H1428.9V1281.3" stroke="#000" stroke-width="3.6" fill="none"/>
<text x="1372.9" y="1244.3" font-size="25">0.0008</text>
<path d="M1471.4 1241.6V1214.4H1506.1V1241.6" stroke="#000" stroke-width="3.6" fill="none"/>
<text x="1454.9" y="1198.2" font-size="25">0.002</text>
<line x1="123.7" y1="12.0" x2="123.7" y2="483.9" stroke="#000" stroke-width="3.8"/>
<line x1="121.8" y1="481.9" x2="1545.4" y2="481.9" stroke="#000" stroke-width="3.9"/>
<line x1="112.9" y1="481.90" x2="123.7" y2="481.90" stroke="#000" stroke-width="3.8"/>
<text x="109.2" y="491.30" font-size="27.3" font-weight="bold" text-anchor="end">0</text>
<line x1="112.9" y1="435.09" x2="123.7" y2="435.09" stroke="#000" stroke-width="3.8"/>
<text x="109.2" y="444.49" font-size="27.3" font-weight="bold" text-anchor="end">50</text>
<line x1="112.9" y1="388.28" x2="123.7" y2="388.28" stroke="#000" stroke-width="3.8"/>
<text x="109.2" y="397.68" font-size="27.3" font-weight="bold" text-anchor="end">100</text>
<line x1="112.9" y1="341.48" x2="123.7" y2="341.48" stroke="#000" stroke-width="3.8"/>
<text x="109.2" y="350.88" font-size="27.3" font-weight="bold" text-anchor="end">150</text>
<line x1="112.9" y1="294.67" x2="123.7" y2="294.67" stroke="#000" stroke-width="3.8"/>
<text x="109.2" y="304.07" font-size="27.3" font-weight="bold" text-anchor="end">200</text>
<line x1="112.9" y1="247.86" x2="123.7" y2="247.86" stroke="#000" stroke-width="3.8"/>
<text x="109.2" y="257.26" font-size="27.3" font-weight="bold" text-anchor="end">250</text>
<line x1="112.9" y1="201.05" x2="123.7" y2="201.05" stroke="#000" stroke-width="3.8"/>
<text x="109.2" y="210.45" font-size="27.3" font-weight="bold" text-anchor="end">300</text>
<line x1="112.9" y1="154.24" x2="123.7" y2="154.24" stroke="#000" stroke-width="3.8"/>
<text x="109.2" y="163.64" font-size="27.3" font-weight="bold" text-anchor="end">350</text>
<line x1="112.9" y1="107.44" x2="123.7" y2="107.44" stroke="#000" stroke-width="3.8"/>
<text x="109.2" y="116.84" font-size="27.3" font-weight="bold" text-anchor="end">400</text>
<line x1="112.9" y1="60.63" x2="123.7" y2="60.63" stroke="#000" stroke-width="3.8"/>
<text x="109.2" y="70.03" font-size="27.3" font-weight="bold" text-anchor="end">450</text>
<line x1="112.9" y1="13.82" x2="123.7" y2="13.82" stroke="#000" stroke-width="3.8"/>
<text x="109.2" y="23.22" font-size="27.3" font-weight="bold" text-anchor="end">500</text>
<line x1="244.80" y1="481.9" x2="244.80" y2="494" stroke="#000" stroke-width="3.8"/>
<text x="244.80" y="524.2" font-size="31.5" font-weight="bold" text-anchor="middle" textLength="44.8" lengthAdjust="spacingAndGlyphs">W0</text>
<line x1="539.20" y1="481.9" x2="539.20" y2="494" stroke="#000" stroke-width="3.8"/>
<text x="539.20" y="524.2" font-size="31.5" font-weight="bold" text-anchor="middle" textLength="44.8" lengthAdjust="spacingAndGlyphs">W1</text>
<line x1="833.60" y1="481.9" x2="833.60" y2="494" stroke="#000" stroke-width="3.8"/>
<text x="833.60" y="524.2" font-size="31.5" font-weight="bold" text-anchor="middle" textLength="44.8" lengthAdjust="spacingAndGlyphs">W2</text>
<line x1="1128.00" y1="481.9" x2="1128.00" y2="494" stroke="#000" stroke-width="3.8"/>
<text x="1128.00" y="524.2" font-size="31.5" font-weight="bold" text-anchor="middle" textLength="44.8" lengthAdjust="spacingAndGlyphs">W3</text>
<line x1="1422.40" y1="481.9" x2="1422.40" y2="494" stroke="#000" stroke-width="3.8"/>
<text x="1422.40" y="524.2" font-size="31.5" font-weight="bold" text-anchor="middle" textLength="44.8" lengthAdjust="spacingAndGlyphs">W4</text>
<line x1="122.8" y1="557.7" x2="122.8" y2="1033.0" stroke="#000" stroke-width="3.8"/>
<line x1="120.89999999999999" y1="1031.0" x2="1552.7" y2="1031.0" stroke="#000" stroke-width="3.9"/>
<line x1="112.9" y1="1031.00" x2="122.8" y2="1031.00" stroke="#000" stroke-width="3.8"/>
<text x="107.2" y="1041.40" font-size="31" font-weight="bold" text-anchor="end">0.0</text>
<line x1="112.9" y1="983.86" x2="122.8" y2="983.86" stroke="#000" stroke-width="3.8"/>
<text x="107.2" y="994.26" font-size="31" font-weight="bold" text-anchor="end">0.2</text>
<line x1="112.9" y1="936.72" x2="122.8" y2="936.72" stroke="#000" stroke-width="3.8"/>
<text x="107.2" y="947.12" font-size="31" font-weight="bold" text-anchor="end">0.4</text>
<line x1="112.9" y1="889.58" x2="122.8" y2="889.58" stroke="#000" stroke-width="3.8"/>
<text x="107.2" y="899.98" font-size="31" font-weight="bold" text-anchor="end">0.6</text>
<line x1="112.9" y1="842.44" x2="122.8" y2="842.44" stroke="#000" stroke-width="3.8"/>
<text x="107.2" y="852.84" font-size="31" font-weight="bold" text-anchor="end">0.8</text>
<line x1="112.9" y1="795.30" x2="122.8" y2="795.30" stroke="#000" stroke-width="3.8"/>
<text x="107.2" y="805.70" font-size="31" font-weight="bold" text-anchor="end">1.0</text>
<line x1="112.9" y1="748.16" x2="122.8" y2="748.16" stroke="#000" stroke-width="3.8"/>
<text x="107.2" y="758.56" font-size="31" font-weight="bold" text-anchor="end">1.2</text>
<line x1="112.9" y1="701.02" x2="122.8" y2="701.02" stroke="#000" stroke-width="3.8"/>
<text x="107.2" y="711.42" font-size="31" font-weight="bold" text-anchor="end">1.4</text>
<line x1="112.9" y1="653.88" x2="122.8" y2="653.88" stroke="#000" stroke-width="3.8"/>
<text x="107.2" y="664.28" font-size="31" font-weight="bold" text-anchor="end">1.6</text>
<line x1="112.9" y1="606.74" x2="122.8" y2="606.74" stroke="#000" stroke-width="3.8"/>
<text x="107.2" y="617.14" font-size="31" font-weight="bold" text-anchor="end">1.8</text>
<line x1="112.9" y1="559.60" x2="122.8" y2="559.60" stroke="#000" stroke-width="3.8"/>
<text x="107.2" y="570.00" font-size="31" font-weight="bold" text-anchor="end">2.0</text>
<line x1="244.70" y1="1031.0" x2="244.70" y2="1042" stroke="#000" stroke-width="3.8"/>
<text x="244.70" y="1073.1" font-size="31" font-weight="bold" text-anchor="middle" textLength="44.8" lengthAdjust="spacingAndGlyphs">W0</text>
<line x1="540.60" y1="1031.0" x2="540.60" y2="1042" stroke="#000" stroke-width="3.8"/>
<text x="540.60" y="1073.1" font-size="31" font-weight="bold" text-anchor="middle" textLength="44.8" lengthAdjust="spacingAndGlyphs">W1</text>
<line x1="836.50" y1="1031.0" x2="836.50" y2="1042" stroke="#000" stroke-width="3.8"/>
<text x="836.50" y="1073.1" font-size="31" font-weight="bold" text-anchor="middle" textLength="44.8" lengthAdjust="spacingAndGlyphs">W2</text>
<line x1="1132.40" y1="1031.0" x2="1132.40" y2="1042" stroke="#000" stroke-width="3.8"/>
<text x="1132.40" y="1073.1" font-size="31" font-weight="bold" text-anchor="middle" textLength="44.8" lengthAdjust="spacingAndGlyphs">W3</text>
<line x1="1428.30" y1="1031.0" x2="1428.30" y2="1042" stroke="#000" stroke-width="3.8"/>
<text x="1428.30" y="1073.1" font-size="31" font-weight="bold" text-anchor="middle" textLength="44.8" lengthAdjust="spacingAndGlyphs">W4</text>
<line x1="122.8" y1="1117.6" x2="122.8" y2="1575.0" stroke="#000" stroke-width="3.8"/>
<line x1="120.89999999999999" y1="1573.0" x2="1535.9" y2="1573.0" stroke="#000" stroke-width="3.9"/>
<line x1="112.9" y1="1573.00" x2="122.8" y2="1573.00" stroke="#000" stroke-width="3.8"/>
<text x="108.3" y="1582.70" font-size="30.5" font-weight="bold" text-anchor="end">0</text>
<line x1="112.9" y1="1516.31" x2="122.8" y2="1516.31" stroke="#000" stroke-width="3.8"/>
<text x="108.3" y="1526.01" font-size="30.5" font-weight="bold" text-anchor="end">50</text>
<line x1="112.9" y1="1459.62" x2="122.8" y2="1459.62" stroke="#000" stroke-width="3.8"/>
<text x="108.3" y="1469.33" font-size="30.5" font-weight="bold" text-anchor="end">100</text>
<line x1="112.9" y1="1402.94" x2="122.8" y2="1402.94" stroke="#000" stroke-width="3.8"/>
<text x="108.3" y="1412.64" font-size="30.5" font-weight="bold" text-anchor="end">150</text>
<line x1="112.9" y1="1346.25" x2="122.8" y2="1346.25" stroke="#000" stroke-width="3.8"/>
<text x="108.3" y="1355.95" font-size="30.5" font-weight="bold" text-anchor="end">200</text>
<line x1="112.9" y1="1289.56" x2="122.8" y2="1289.56" stroke="#000" stroke-width="3.8"/>
<text x="108.3" y="1299.26" font-size="30.5" font-weight="bold" text-anchor="end">250</text>
<line x1="112.9" y1="1232.88" x2="122.8" y2="1232.88" stroke="#000" stroke-width="3.8"/>
<text x="108.3" y="1242.58" font-size="30.5" font-weight="bold" text-anchor="end">300</text>
<line x1="112.9" y1="1176.19" x2="122.8" y2="1176.19" stroke="#000" stroke-width="3.8"/>
<text x="108.3" y="1185.89" font-size="30.5" font-weight="bold" text-anchor="end">350</text>
<line x1="112.9" y1="1119.50" x2="122.8" y2="1119.50" stroke="#000" stroke-width="3.8"/>
<text x="108.3" y="1129.20" font-size="30.5" font-weight="bold" text-anchor="end">400</text>
<line x1="243.50" y1="1573.0" x2="243.50" y2="1584" stroke="#000" stroke-width="3.8"/>
<text x="243.50" y="1614.7" font-size="31.5" font-weight="bold" text-anchor="middle" textLength="44.8" lengthAdjust="spacingAndGlyphs">W0</text>
<line x1="535.75" y1="1573.0" x2="535.75" y2="1584" stroke="#000" stroke-width="3.8"/>
<text x="535.75" y="1614.7" font-size="31.5" font-weight="bold" text-anchor="middle" textLength="44.8" lengthAdjust="spacingAndGlyphs">W1</text>
<line x1="828.00" y1="1573.0" x2="828.00" y2="1584" stroke="#000" stroke-width="3.8"/>
<text x="828.00" y="1614.7" font-size="31.5" font-weight="bold" text-anchor="middle" textLength="44.8" lengthAdjust="spacingAndGlyphs">W2</text>
<line x1="1120.25" y1="1573.0" x2="1120.25" y2="1584" stroke="#000" stroke-width="3.8"/>
<text x="1120.25" y="1614.7" font-size="31.5" font-weight="bold" text-anchor="middle" textLength="44.8" lengthAdjust="spacingAndGlyphs">W3</text>
<line x1="1412.50" y1="1573.0" x2="1412.50" y2="1584" stroke="#000" stroke-width="3.8"/>
<text x="1412.50" y="1614.7" font-size="31.5" font-weight="bold" text-anchor="middle" textLength="44.8" lengthAdjust="spacingAndGlyphs">W4</text>
<rect x="33.4" y="1703.2" width="38.1" height="16.7" fill="#f7ace8" stroke="#000" stroke-width="3.6"/>
<text x="97.7" y="1721.7" font-size="32">Sham 21% O2/ 0% CO2 (n=14)</text>
<rect x="32.699999999999996" y="1756.8999999999999" width="38.1" height="16.7" fill="#d4d4d4" stroke="#000" stroke-width="3.6"/>
<text x="96" y="1774.7" font-size="32">Low-dose bleomycin 21% O2/ 0% CO2 (n=10)</text>
<rect x="32.699999999999996" y="1809.1" width="38.1" height="16.7" fill="#93c2f8" stroke="#000" stroke-width="3.6"/>
<text x="96" y="1827.8" font-size="32">High-dose bleomycin 21% O2/ 0% CO2 (n=9)</text>
<rect x="821.6999999999999" y="1703.7" width="38.1" height="16.7" fill="#b6f6e0" stroke="#000" stroke-width="3.6"/>
<text x="885.5" y="1721.7" font-size="32">Sham 10% O2/ 0% CO2 (n=14)</text>
<rect x="823.0" y="1756.8999999999999" width="38.1" height="16.7" fill="#fffde2" stroke="#000" stroke-width="3.6"/>
<text x="887.5" y="1774.7" font-size="32">Low-dose bleomycin 10% O2/ 0% CO2 (n=10)</text>
<rect x="824.1999999999999" y="1809.6" width="38.1" height="16.7" fill="#fec383" stroke="#000" stroke-width="3.6"/>
<text x="889.3" y="1828.2" font-size="32">High-dose bleomycin 10% O2/ 0% CO2 (n=9)</text>
</svg>
</body></html>
